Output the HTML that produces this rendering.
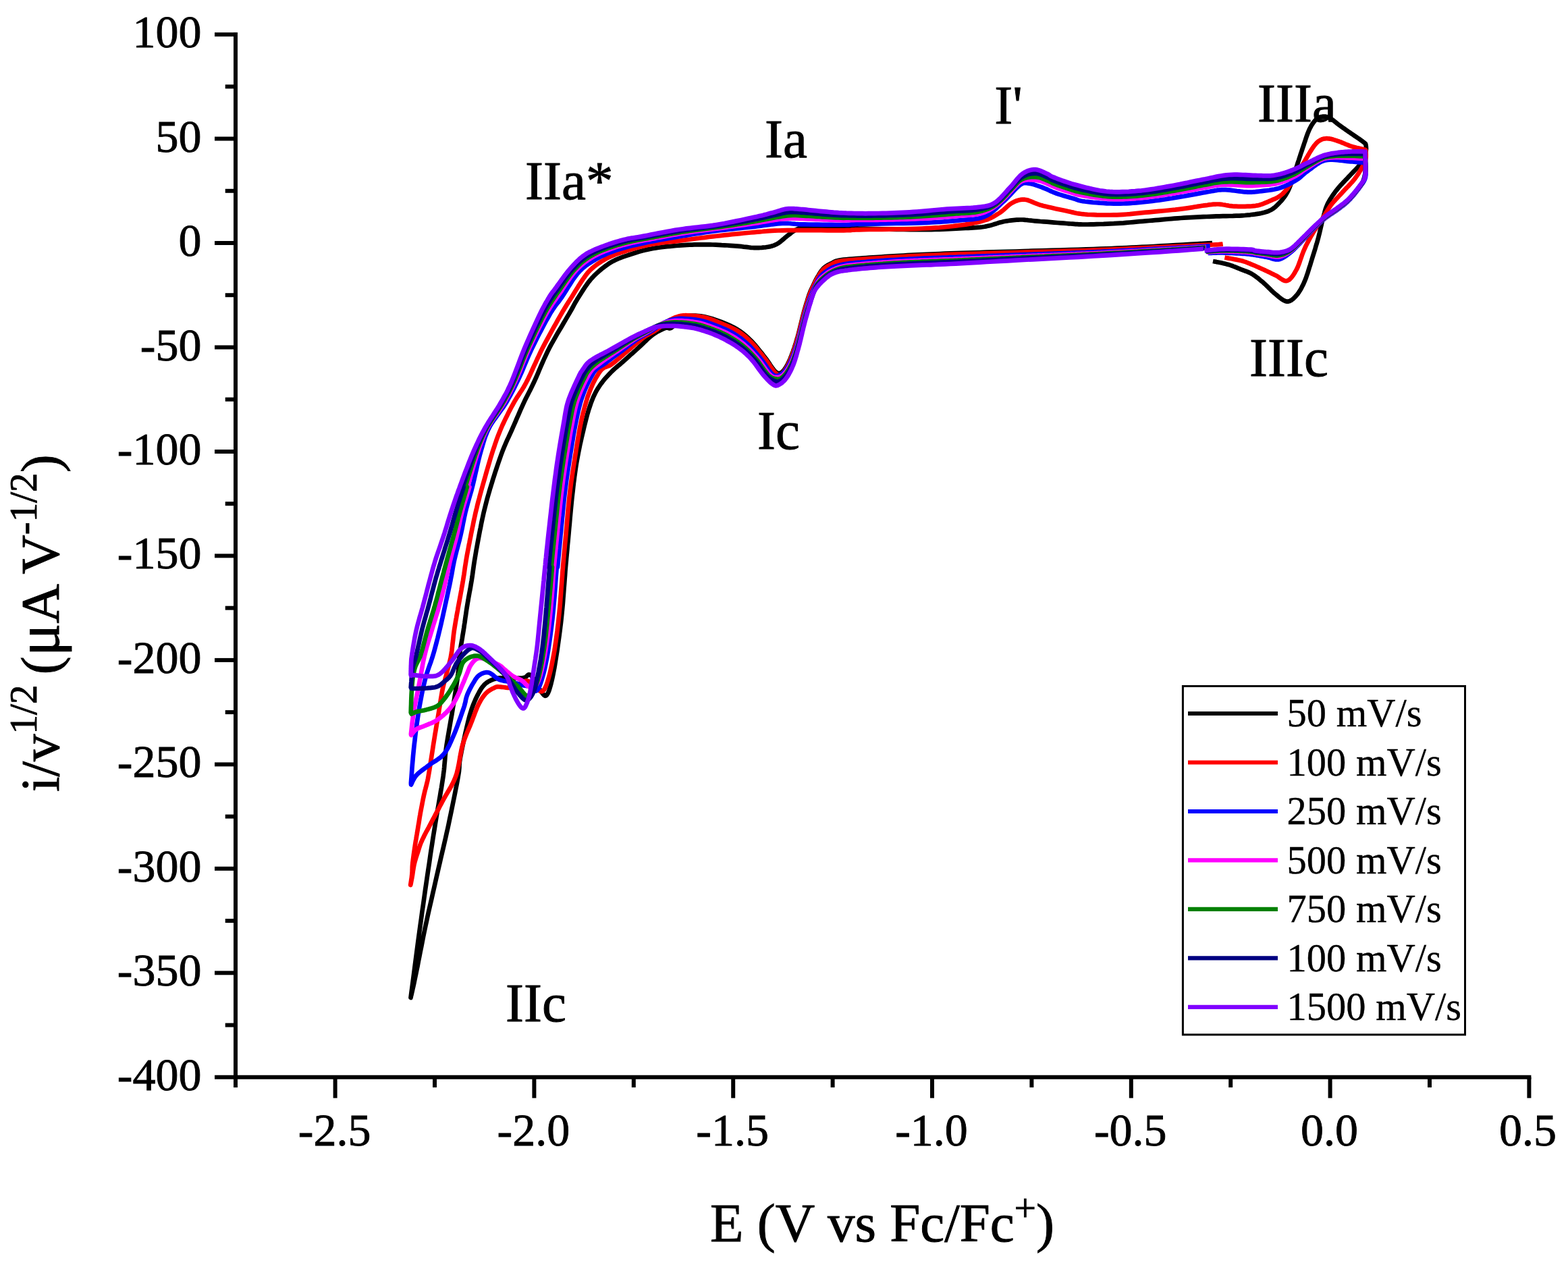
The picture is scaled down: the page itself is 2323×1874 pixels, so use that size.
<!DOCTYPE html>
<html><head><meta charset="utf-8"><title>CV</title>
<style>
html,body{margin:0;padding:0;background:#fff;}
svg{display:block;}
text{font-family:"Liberation Serif","Times New Roman",serif;fill:#000;stroke:#000;stroke-width:0.9px;}
</style></head><body>
<svg xmlns="http://www.w3.org/2000/svg" width="2323" height="1874" viewBox="0 0 2323 1874">
<rect width="2323" height="1874" fill="#fff"/>
<g fill="none" stroke-width="6.7" stroke-linejoin="round" stroke-linecap="butt">
<path d="M1796.0 360.0 1790.2 360.3 1782.7 360.8 1773.8 361.3 1763.7 361.9 1753.0 362.5 1741.9 363.2 1730.6 363.8 1719.7 364.4 1709.4 365.0 1700.0 365.5 1691.6 365.9 1683.7 366.3 1676.3 366.7 1669.1 367.0 1661.9 367.4 1654.6 367.7 1647.0 368.0 1638.8 368.3 1629.8 368.6 1620.0 369.0 1609.1 369.4 1597.1 369.8 1584.3 370.1 1571.0 370.5 1557.3 370.9 1543.6 371.3 1530.1 371.7 1517.0 372.1 1504.5 372.5 1493.0 372.8 1482.2 373.1 1471.7 373.4 1461.6 373.7 1451.8 374.0 1442.4 374.3 1433.3 374.6 1424.5 374.9 1416.0 375.1 1407.9 375.4 1400.0 375.7 1392.5 376.0 1385.5 376.3 1378.9 376.5 1372.6 376.8 1366.6 377.1 1360.8 377.4 1355.2 377.7 1349.7 377.9 1344.3 378.2 1339.0 378.5 1333.8 378.8 1328.8 379.1 1324.1 379.3 1319.5 379.6 1315.1 379.9 1310.7 380.2 1306.4 380.5 1302.0 380.8 1297.6 381.1 1293.0 381.4 1288.2 381.7 1283.2 382.1 1278.1 382.4 1272.9 382.8 1267.8 383.1 1262.8 383.5 1258.1 383.9 1253.8 384.3 1249.9 384.7 1246.5 385.1 1243.7 385.5 1241.5 386.0 1239.7 386.4 1238.3 386.8 1237.1 387.3 1235.2 388.3 1233.2 389.4 1232.0 390.0 1230.7 390.6 1229.4 391.2 1228.1 391.9 1226.9 392.5 1225.7 393.2 1224.5 394.0 1223.3 394.8 1222.2 395.6 1221.1 396.5 1220.0 397.5 1219.0 398.6 1218.0 399.8 1217.0 401.0 1216.0 402.4 1215.1 403.7 1214.2 405.1 1213.4 406.5 1212.6 407.9 1211.8 409.2 1211.0 410.5 1210.3 411.7 1209.6 412.9 1209.0 414.1 1208.4 415.3 1207.8 416.5 1207.3 417.6 1206.7 418.8 1206.2 420.0 1205.6 421.2 1205.0 422.5 1204.4 423.7 1203.8 424.9 1203.3 426.0 1202.7 427.1 1202.2 428.2 1201.6 429.5 1201.0 430.8 1200.4 432.3 1199.7 434.1 1199.0 436.0 1198.2 438.2 1197.5 440.6 1196.6 443.2 1195.8 446.0 1194.9 448.8 1194.0 451.8 1193.1 454.8 1192.2 457.9 1191.3 461.0 1190.5 464.0 1189.7 467.1 1188.9 470.2 1188.1 473.5 1187.3 476.8 1186.5 480.1 1185.7 483.4 1184.9 486.6 1184.1 489.9 1183.3 493.0 1182.5 496.0 1181.7 498.9 1180.8 501.8 1180.0 504.7 1179.2 507.5 1178.3 510.2 1177.5 512.9 1176.6 515.6 1175.7 518.1 1174.9 520.6 1174.0 523.0 1173.1 525.3 1172.2 527.6 1171.3 529.8 1170.5 532.0 1169.5 534.1 1168.6 536.1 1167.7 538.0 1166.8 539.8 1165.9 541.4 1165.0 543.0 1164.1 544.5 1163.1 545.9 1162.2 547.2 1161.3 548.4 1160.3 549.5 1159.4 550.5 1158.4 551.3 1156.6 552.6 1154.8 553.2 1153.3 553.3 1151.8 552.8 1150.2 551.8 1148.4 550.1 1147.3 549.0 1146.2 547.7 1145.0 546.2 1143.8 544.5 1142.5 542.6 1141.1 540.6 1139.7 538.4 1138.3 536.2 1136.7 534.0 1135.1 531.7 1133.4 529.5 1131.6 527.2 1129.7 524.7 1127.6 522.1 1125.5 519.5 1123.3 516.8 1121.1 514.1 1118.9 511.5 1116.7 509.0 1114.5 506.6 1112.4 504.4 1110.3 502.4 1108.3 500.5 1106.3 498.6 1104.4 496.9 1102.4 495.3 1100.4 493.7 1098.3 492.1 1096.1 490.6 1093.9 489.2 1091.5 487.7 1089.0 486.2 1086.4 484.8 1083.6 483.4 1080.8 482.1 1078.0 480.8 1075.1 479.5 1072.2 478.3 1069.3 477.2 1066.4 476.1 1063.6 475.1 1060.8 474.1 1058.0 473.2 1055.2 472.3 1052.4 471.5 1049.6 470.7 1046.8 470.0 1044.0 469.4 1041.2 468.8 1038.5 468.4 1035.8 468.1 1033.1 467.9 1030.3 467.7 1027.6 467.6 1024.8 467.6 1022.1 467.6 1019.5 467.8 1016.9 468.2 1014.4 468.6 1012.1 469.2 1010.0 470.0 1008.0 471.1 1006.2 472.5 1004.5 474.1 1002.9 475.9 1001.4 477.8 999.9 479.7 998.6 481.5 997.3 483.1 996.0 484.5 994.8 485.5 993.7 486.1 991.9 486.5 990.4 486.1 988.8 485.6 986.8 485.6 985.5 486.0 984.0 486.6 982.4 487.3 980.6 488.1 978.7 489.0 976.8 490.0 974.8 491.0 972.8 492.2 970.8 493.4 968.8 494.7 966.9 496.0 965.1 497.4 963.3 498.9 961.5 500.5 959.7 502.1 957.9 503.8 956.1 505.6 954.2 507.4 952.3 509.2 950.4 511.1 948.3 513.0 946.1 515.0 943.9 517.0 941.6 519.1 939.2 521.3 936.8 523.4 934.3 525.6 931.9 527.8 929.5 529.9 927.2 532.0 925.0 534.0 922.8 535.9 920.7 537.8 918.6 539.6 916.5 541.3 914.4 543.1 912.4 544.8 910.4 546.5 908.5 548.3 906.6 550.1 904.7 552.0 902.9 553.9 901.0 555.8 899.3 557.8 897.5 559.7 895.8 561.7 894.1 563.7 892.5 565.8 890.9 567.8 889.4 569.9 888.0 572.0 886.6 574.1 885.3 576.1 884.1 578.2 883.0 580.2 881.9 582.3 880.8 584.5 879.7 586.8 878.6 589.2 877.6 591.7 876.5 594.5 875.4 597.4 874.4 600.4 873.4 603.4 872.3 606.6 871.3 610.0 870.3 613.4 869.3 617.1 868.3 620.9 867.3 624.9 866.2 629.1 865.1 633.6 864.0 638.4 862.8 643.4 861.6 648.6 860.4 653.9 859.2 659.4 858.1 664.8 857.0 670.3 856.0 675.6 855.0 680.9 854.1 686.0 853.3 691.0 852.6 695.9 851.9 700.8 851.2 705.7 850.6 710.7 849.9 715.9 849.3 721.2 848.7 726.8 848.0 732.7 847.3 739.0 846.6 745.9 845.9 753.1 845.2 760.6 844.5 768.1 843.9 775.6 843.2 782.8 842.6 789.7 842.0 796.1 841.5 801.8 841.0 806.7 840.6 811.0 840.3 814.6 840.0 818.0 839.7 821.1 839.4 824.2 839.1 827.5 838.8 831.1 838.4 835.2 838.0 840.0 837.5 845.5 837.1 851.7 836.6 858.2 836.1 865.1 835.5 872.2 835.0 879.3 834.4 886.4 833.9 893.4 833.3 900.0 832.7 906.2 832.1 912.1 831.5 917.8 830.9 923.3 830.2 928.7 829.6 933.9 828.9 939.1 828.2 944.2 827.5 949.2 826.8 954.2 826.1 959.2 825.4 964.2 824.6 969.3 823.8 974.3 823.0 979.3 822.2 984.2 821.4 989.0 820.5 993.5 819.7 997.9 818.9 1001.9 818.1 1005.6 817.3 1009.0 816.5 1012.3 815.7 1015.3 814.9 1018.1 814.1 1020.7 813.4 1023.0 812.6 1025.0 811.8 1026.8 811.0 1028.2 810.2 1029.4 808.7 1030.7 807.4 1030.8 806.0 1029.9 804.4 1028.0 803.4 1026.8 802.3 1025.4 801.0 1023.6 799.5 1021.3 798.0 1018.5 796.3 1015.5 794.5 1012.4 792.8 1009.3 791.0 1006.4 789.4 1003.8 787.8 1001.7 786.4 1000.3 785.2 999.5 783.2 999.4 781.4 1000.6 780.5 1001.5 779.6 1002.4 778.5 1003.2 777.2 1003.8 775.8 1004.2 774.1 1004.4 772.3 1004.5 770.2 1004.6 768.1 1004.7 765.9 1004.7 763.6 1004.8 761.4 1004.8 759.2 1004.8 757.0 1004.8 755.0 1004.8 753.1 1004.8 751.1 1004.7 749.2 1004.6 747.4 1004.5 745.5 1004.4 743.7 1004.3 741.9 1004.3 740.1 1004.3 738.4 1004.5 736.6 1004.8 734.8 1005.2 733.1 1005.7 731.3 1006.2 729.6 1006.9 727.8 1007.6 726.2 1008.4 724.5 1009.2 722.9 1010.1 721.4 1011.1 720.0 1012.2 718.7 1013.3 717.4 1014.5 716.3 1015.8 715.2 1017.1 714.1 1018.5 713.1 1019.9 712.1 1021.5 711.1 1023.2 710.1 1025.0 709.0 1027.0 707.9 1029.1 706.8 1031.3 705.6 1033.6 704.5 1036.0 703.4 1038.5 702.3 1041.1 701.2 1043.8 700.1 1046.7 699.0 1049.6 698.0 1052.7 697.0 1055.9 696.0 1059.3 695.0 1062.9 694.1 1066.6 693.1 1070.4 692.2 1074.2 691.3 1078.1 690.4 1082.0 689.5 1085.8 688.7 1089.5 687.9 1093.2 687.0 1097.1 686.2 1101.0 685.4 1104.9 684.6 1108.8 683.8 1112.6 683.1 1116.3 682.4 1119.9 681.8 1123.2 681.3 1126.4 680.9 1129.1 680.7 1131.2 680.6 1133.0 680.5 1134.5 680.5 1136.1 680.4 1137.8 680.2 1139.9 680.0 1142.5 679.5 1145.8 678.8 1150.0 677.9 1155.2 676.8 1161.1 675.5 1167.7 674.1 1174.9 672.6 1182.4 671.0 1190.1 669.4 1198.0 667.8 1205.7 666.2 1213.3 664.7 1220.6 663.2 1227.6 661.6 1234.5 660.1 1241.4 658.5 1248.3 656.9 1255.2 655.3 1262.1 653.6 1269.1 652.0 1276.3 650.3 1283.5 648.6 1291.0 646.8 1298.7 645.0 1306.7 643.2 1314.8 641.3 1323.1 639.4 1331.4 637.5 1339.7 635.6 1348.0 633.8 1356.1 632.1 1364.1 630.4 1371.8 628.8 1379.4 627.2 1387.1 625.7 1394.8 624.2 1402.5 622.7 1409.9 621.3 1417.2 619.9 1424.1 618.7 1430.7 617.4 1436.8 616.3 1442.4 615.2 1447.5 614.2 1452.3 613.3 1456.8 612.4 1460.9 611.5 1464.6 610.8 1468.0 610.1 1471.0 609.5 1473.7 608.9 1476.0 608.5 1478.0 609.3 1471.7 610.4 1463.5 611.7 1453.8 613.1 1442.9 614.6 1431.2 616.2 1419.0 617.8 1406.6 619.4 1394.4 621.0 1382.7 622.5 1371.8 624.0 1361.3 625.4 1350.6 627.0 1339.9 628.5 1329.2 630.0 1318.5 631.5 1308.2 633.0 1298.1 634.4 1288.5 635.8 1279.4 637.0 1271.0 638.1 1263.3 639.2 1256.3 640.2 1249.9 641.1 1243.9 642.0 1238.2 642.9 1232.8 643.8 1227.4 644.6 1222.0 645.5 1216.4 646.5 1210.5 647.5 1204.4 648.6 1198.1 649.7 1191.8 650.8 1185.4 651.9 1179.1 652.9 1172.9 654.0 1166.8 654.9 1160.9 655.8 1155.3 656.6 1150.0 657.2 1145.1 657.8 1140.6 658.2 1136.5 658.5 1132.5 658.9 1128.7 659.2 1124.9 659.5 1121.0 659.9 1117.0 660.4 1112.7 661.0 1108.0 661.7 1103.0 662.6 1097.6 663.5 1092.0 664.5 1086.2 665.5 1080.4 666.5 1074.6 667.5 1068.8 668.5 1063.2 669.5 1057.8 670.3 1052.7 671.1 1047.8 671.9 1043.1 672.6 1038.4 673.3 1033.9 674.0 1029.5 674.7 1025.2 675.3 1021.1 675.9 1017.2 676.5 1013.5 677.0 1010.0 677.5 1006.7 677.9 1003.7 678.2 1000.9 678.6 998.2 678.9 995.7 679.1 993.4 679.4 991.2 679.6 989.0 679.8 987.0 680.0 985.0 680.1 983.2 680.2 981.8 680.2 979.6 680.1 977.5 680.2 976.2 680.3 974.8 680.4 972.9 680.7 970.6 681.1 967.8 681.6 964.7 682.1 961.2 682.7 957.5 683.4 953.6 684.1 949.5 684.8 945.5 685.4 941.4 686.1 937.5 686.7 933.7 687.3 930.0 687.8 926.3 688.4 922.7 688.9 919.0 689.4 915.3 690.0 911.6 690.5 907.9 691.0 904.3 691.6 900.6 692.2 896.9 692.8 893.2 693.5 889.4 694.1 885.6 694.8 881.8 695.5 878.0 696.2 874.3 696.9 870.6 697.5 867.0 698.1 863.4 698.7 860.0 699.2 856.7 699.7 853.6 700.1 850.7 700.5 847.8 700.9 844.9 701.3 842.0 701.7 839.1 702.1 836.2 702.6 833.1 703.1 829.8 703.7 826.4 704.3 822.8 704.9 819.2 705.5 815.5 706.2 811.8 706.9 808.0 707.6 804.2 708.3 800.4 709.0 796.6 709.7 792.9 710.4 789.2 711.1 785.5 711.9 781.9 712.6 778.2 713.3 774.5 714.1 770.8 714.9 767.1 715.7 763.5 716.5 759.8 717.4 756.1 718.3 752.5 719.2 748.9 720.1 745.4 721.0 741.9 721.9 738.4 722.9 734.8 724.0 731.1 725.1 727.3 726.2 723.4 727.5 719.2 728.9 714.8 730.3 710.0 731.9 705.1 733.5 700.0 735.2 694.9 736.9 689.8 738.6 684.7 740.3 679.8 742.0 675.0 743.6 670.6 745.2 666.4 746.8 662.5 748.4 658.7 750.0 655.0 751.6 651.4 753.3 647.9 754.9 644.4 756.5 640.9 758.1 637.3 759.7 633.7 761.3 630.0 763.0 626.2 764.6 622.4 766.2 618.7 767.9 614.9 769.5 611.1 771.1 607.4 772.7 603.8 774.3 600.3 775.9 596.9 777.4 593.7 778.8 590.8 780.2 588.0 781.6 585.4 782.9 582.7 784.3 580.0 785.8 577.1 787.3 574.0 789.0 570.6 790.8 566.8 792.7 562.6 794.8 558.0 796.9 553.1 799.0 548.0 801.3 542.7 803.6 537.4 806.0 532.0 808.5 526.6 811.0 521.3 813.6 516.1 816.3 510.9 819.3 505.6 822.4 500.1 825.5 494.6 828.7 489.2 831.9 483.9 834.9 478.8 837.8 473.9 840.4 469.4 842.8 465.4 844.8 461.8 846.6 458.7 848.1 456.0 849.4 453.6 850.6 451.3 851.8 449.1 853.0 447.0 854.3 444.9 855.7 442.5 857.3 440.0 859.0 437.3 860.8 434.5 862.6 431.6 864.5 428.7 866.4 425.7 868.4 422.8 870.4 420.0 872.6 417.1 874.8 414.4 877.1 411.8 879.5 409.2 882.1 406.7 884.7 404.2 887.4 401.8 890.2 399.4 893.1 397.0 896.0 394.8 898.9 392.7 901.8 390.7 904.7 388.9 907.6 387.2 910.6 385.7 913.5 384.3 916.6 383.0 919.6 381.8 922.7 380.7 925.7 379.6 928.8 378.6 932.0 377.5 935.1 376.5 938.2 375.5 941.3 374.5 944.4 373.5 947.5 372.6 950.6 371.8 953.8 370.9 957.1 370.1 960.4 369.4 963.9 368.7 967.6 368.0 971.5 367.4 975.5 366.8 979.7 366.2 984.1 365.7 988.5 365.2 992.9 364.8 997.3 364.4 1001.7 364.0 1005.9 363.7 1010.0 363.4 1013.9 363.1 1017.8 362.9 1021.5 362.7 1025.2 362.6 1028.8 362.4 1032.5 362.3 1036.2 362.3 1039.9 362.3 1043.7 362.3 1047.6 362.3 1051.7 362.4 1055.9 362.5 1060.3 362.6 1064.7 362.8 1069.1 363.1 1073.5 363.3 1077.7 363.5 1081.9 363.8 1085.8 364.1 1089.4 364.3 1092.8 364.6 1096.0 364.9 1099.0 365.2 1101.9 365.6 1104.7 365.9 1107.3 366.2 1109.9 366.5 1112.4 366.8 1114.9 367.0 1117.3 367.1 1119.7 367.1 1122.0 367.1 1124.3 367.1 1126.5 367.0 1128.6 366.9 1130.7 366.7 1132.7 366.5 1134.6 366.3 1136.4 366.0 1138.2 365.7 1139.9 365.4 1141.4 365.1 1142.9 364.7 1144.3 364.3 1145.6 363.9 1146.9 363.4 1148.1 362.9 1149.4 362.3 1150.7 361.7 1152.1 360.9 1153.5 360.0 1154.9 359.0 1156.3 358.0 1157.7 356.8 1159.1 355.6 1160.5 354.4 1161.9 353.2 1163.3 351.9 1164.7 350.8 1166.1 349.7 1167.5 348.6 1168.9 347.6 1170.3 346.5 1171.7 345.4 1173.0 344.3 1174.4 343.3 1175.8 342.4 1177.2 341.5 1178.6 340.7 1180.0 340.0 1181.2 339.4 1182.9 338.5 1184.4 337.9 1186.7 337.5 1188.5 337.3 1190.9 337.1 1194.0 337.0 1198.0 336.9 1203.0 336.8 1208.8 336.7 1215.0 336.7 1221.4 336.7 1228.0 336.7 1234.3 336.8 1240.2 336.9 1245.6 336.9 1250.0 337.0 1253.3 337.1 1255.6 337.2 1257.1 337.3 1259.1 337.6 1261.9 338.0 1264.4 338.2 1267.9 338.3 1272.9 338.5 1279.5 338.7 1287.6 338.9 1296.8 339.1 1306.8 339.3 1317.3 339.6 1328.0 339.8 1338.5 339.9 1348.6 340.1 1357.8 340.2 1365.9 340.2 1373.1 340.2 1379.7 340.1 1385.9 339.9 1391.8 339.8 1397.2 339.6 1402.4 339.4 1407.4 339.1 1412.2 338.9 1416.9 338.6 1421.6 338.4 1426.1 338.2 1430.4 338.0 1434.4 337.8 1438.3 337.6 1441.9 337.4 1445.5 337.2 1448.9 336.9 1452.3 336.6 1455.5 336.2 1458.8 335.7 1462.0 335.1 1465.0 334.4 1468.0 333.7 1470.8 332.9 1473.6 332.0 1476.3 331.2 1478.9 330.3 1481.5 329.6 1484.1 328.9 1486.7 328.3 1489.3 327.8 1491.8 327.4 1494.3 327.0 1496.7 326.6 1499.2 326.3 1501.5 326.1 1503.9 325.9 1506.2 325.7 1508.6 325.6 1510.9 325.5 1513.1 325.5 1515.1 325.5 1517.0 325.6 1518.8 325.8 1520.6 326.0 1522.6 326.2 1524.8 326.5 1527.2 326.7 1530.0 327.0 1533.2 327.3 1537.0 327.6 1541.3 328.0 1546.1 328.3 1551.1 328.7 1556.3 329.2 1561.5 329.6 1566.6 330.0 1571.5 330.4 1576.0 330.7 1580.0 331.0 1583.4 331.3 1586.4 331.5 1589.0 331.7 1591.4 331.9 1593.7 332.1 1595.9 332.2 1598.3 332.3 1601.0 332.4 1603.9 332.5 1607.4 332.5 1611.3 332.5 1615.6 332.4 1620.2 332.3 1624.9 332.2 1629.9 332.0 1634.9 331.9 1640.0 331.6 1645.0 331.4 1650.0 331.2 1654.8 330.9 1659.5 330.6 1664.3 330.3 1669.0 329.9 1673.8 329.5 1678.5 329.1 1683.2 328.7 1688.0 328.2 1692.7 327.8 1697.5 327.4 1702.2 327.0 1706.9 326.6 1711.7 326.2 1716.4 325.8 1721.2 325.3 1725.9 324.9 1730.6 324.5 1735.4 324.1 1740.1 323.7 1744.9 323.3 1749.6 323.0 1754.3 322.7 1759.1 322.4 1763.8 322.1 1768.6 321.9 1773.3 321.6 1778.0 321.4 1782.8 321.2 1787.5 321.0 1792.3 320.8 1797.0 320.6 1801.8 320.4 1806.7 320.3 1811.7 320.2 1816.7 320.1 1821.6 320.0 1826.5 319.9 1831.2 319.7 1835.8 319.6 1840.2 319.3 1844.4 319.0 1848.3 318.6 1852.2 318.3 1855.8 317.8 1859.4 317.4 1862.7 316.9 1866.0 316.4 1869.0 315.8 1872.0 315.1 1874.7 314.3 1877.3 313.5 1879.7 312.6 1881.8 311.6 1883.7 310.6 1885.5 309.5 1887.1 308.3 1888.7 307.1 1890.2 305.7 1891.6 304.4 1893.1 302.9 1894.6 301.4 1896.1 299.8 1897.6 298.2 1899.1 296.5 1900.5 294.8 1901.9 293.0 1903.3 291.1 1904.6 289.1 1905.9 287.0 1907.2 284.8 1908.4 282.4 1909.6 279.9 1910.7 277.2 1911.8 274.4 1912.8 271.5 1913.8 268.5 1914.8 265.4 1915.8 262.3 1916.8 259.2 1917.8 256.1 1918.8 253.0 1919.8 250.0 1920.9 246.9 1921.9 243.7 1922.9 240.6 1924.0 237.5 1925.0 234.3 1926.0 231.2 1927.0 228.0 1928.1 224.9 1929.1 221.9 1930.1 218.8 1931.2 215.7 1932.2 212.5 1933.3 209.4 1934.3 206.2 1935.3 203.2 1936.4 200.3 1937.4 197.5 1938.5 194.9 1939.5 192.5 1940.5 190.3 1941.6 188.3 1942.6 186.4 1943.7 184.7 1944.7 183.1 1945.7 181.7 1946.8 180.3 1947.8 179.1 1948.9 177.9 1949.9 176.9 1950.9 176.0 1952.0 175.2 1953.0 174.6 1955.1 173.6 1957.2 173.0 1959.3 172.7 1961.3 172.5 1963.3 172.6 1965.2 173.0 1967.2 173.6 1969.4 174.6 1970.6 175.2 1971.8 175.9 1973.1 176.8 1974.4 177.7 1975.7 178.7 1977.1 179.8 1978.5 180.9 1980.0 182.1 1981.5 183.3 1983.0 184.5 1984.5 185.6 1986.1 186.8 1987.8 188.0 1989.5 189.2 1991.3 190.4 1993.1 191.7 1994.9 193.0 1996.7 194.2 1998.4 195.4 2000.1 196.6 2001.7 197.7 2003.3 198.8 2004.8 199.8 2006.3 200.9 2007.8 201.9 2009.2 202.8 2010.6 203.8 2012.0 204.7 2013.3 205.6 2014.5 206.4 2015.6 207.2 2016.7 208.0 2017.7 208.7 2018.6 209.4 2020.4 210.8 2021.8 212.0 2023.0 212.9 2023.5 214.7 2023.8 216.8 2023.9 218.0 2024.0 219.3 2024.0 220.7 2023.9 222.1 2023.7 223.5 2023.4 225.0 2023.0 226.5 2022.5 228.1 2021.9 229.8 2021.3 231.6 2020.6 233.3 2019.8 235.2 2018.9 237.0 2017.9 238.9 2016.8 240.8 2015.6 242.6 2014.3 244.4 2012.7 246.3 2011.1 248.2 2009.4 250.1 2007.5 252.0 2005.7 253.9 2003.8 255.9 2001.9 257.8 2000.1 259.7 1998.3 261.6 1996.6 263.5 1994.8 265.4 1993.0 267.2 1991.2 269.1 1989.4 271.0 1987.7 272.9 1985.9 274.8 1984.2 276.7 1982.6 278.6 1981.0 280.6 1979.4 282.6 1977.9 284.6 1976.4 286.7 1974.9 288.8 1973.4 290.9 1972.1 293.0 1970.7 295.1 1969.5 297.2 1968.3 299.3 1967.2 301.4 1966.2 303.4 1965.4 305.4 1964.6 307.3 1963.9 309.3 1963.3 311.2 1962.7 313.2 1962.2 315.3 1961.6 317.4 1961.0 319.7 1960.3 322.1 1959.6 324.7 1959.0 327.3 1958.3 330.1 1957.7 333.0 1957.0 335.9 1956.3 338.9 1955.6 342.0 1954.9 345.1 1954.1 348.3 1953.3 351.5 1952.4 354.8 1951.5 358.1 1950.5 361.6 1949.4 365.1 1948.4 368.7 1947.3 372.3 1946.2 375.8 1945.1 379.3 1944.0 382.8 1943.0 386.1 1942.0 389.4 1941.0 392.7 1939.9 396.0 1938.9 399.3 1937.9 402.5 1936.9 405.7 1935.8 408.7 1934.8 411.7 1933.7 414.5 1932.6 417.2 1931.5 419.7 1930.3 422.2 1929.1 424.6 1928.0 426.8 1926.8 428.9 1925.5 431.0 1924.3 432.9 1923.1 434.7 1921.8 436.4 1920.5 437.9 1919.2 439.3 1917.9 440.7 1916.6 442.0 1915.2 443.2 1913.9 444.2 1912.5 445.1 1911.1 445.8 1909.7 446.3 1908.2 446.6 1906.7 446.6 1905.2 446.4 1903.6 445.8 1902.0 445.0 1900.3 444.1 1898.6 442.9 1896.9 441.6 1895.2 440.3 1893.5 438.9 1891.7 437.4 1890.0 436.0 1888.2 434.5 1886.4 432.9 1884.6 431.2 1882.7 429.4 1880.9 427.5 1879.0 425.7 1877.1 423.8 1875.3 422.1 1873.5 420.4 1871.7 418.8 1870.0 417.3 1868.2 415.9 1866.5 414.4 1864.9 413.1 1863.2 411.7 1861.5 410.5 1859.9 409.3 1858.3 408.1 1856.6 407.0 1855.0 406.0 1853.4 405.1 1851.8 404.3 1850.3 403.6 1848.8 402.9 1847.3 402.3 1845.7 401.7 1844.2 401.2 1842.6 400.6 1840.9 400.0 1839.2 399.3 1837.4 398.6 1835.6 397.8 1833.8 397.1 1831.9 396.3 1830.1 395.5 1828.1 394.8 1826.1 394.0 1824.1 393.3 1822.1 392.6 1820.0 392.0 1817.8 391.4 1815.3 390.8 1812.7 390.2 1810.0 389.6 1807.3 389.0 1804.7 388.5 1802.3 388.1 1800.2 387.6 1798.4 387.3 1797.0 387.0" stroke="#000000"/>
<path d="M1811.7 361.5 1810.4 361.7 1807.9 361.9 1805.4 362.1 1801.9 362.3 1797.0 362.5 1790.6 362.8 1782.6 363.2 1773.4 363.6 1763.3 364.1 1752.6 364.6 1741.5 365.1 1730.4 365.6 1719.6 366.1 1709.4 366.6 1700.0 367.0 1691.5 367.4 1683.7 367.8 1676.2 368.1 1669.0 368.5 1661.9 368.8 1654.6 369.2 1646.9 369.5 1638.7 369.9 1629.8 370.2 1620.0 370.6 1609.1 371.0 1597.1 371.3 1584.3 371.7 1571.0 372.1 1557.3 372.5 1543.6 372.9 1530.1 373.2 1517.0 373.6 1504.5 374.0 1493.0 374.3 1482.2 374.6 1471.7 374.9 1461.6 375.2 1451.8 375.5 1442.4 375.8 1433.3 376.1 1424.5 376.4 1416.0 376.6 1407.9 376.9 1400.0 377.2 1392.5 377.5 1385.5 377.8 1378.9 378.0 1372.6 378.3 1366.6 378.6 1360.8 378.9 1355.2 379.2 1349.7 379.4 1344.3 379.7 1339.0 380.0 1333.8 380.3 1328.8 380.6 1324.1 380.8 1319.5 381.1 1315.1 381.4 1310.7 381.7 1306.4 382.0 1302.0 382.3 1297.6 382.6 1293.0 382.9 1288.2 383.2 1283.2 383.6 1278.1 383.9 1272.9 384.3 1267.8 384.6 1262.8 385.0 1258.1 385.4 1253.8 385.8 1249.9 386.2 1246.5 386.6 1243.7 387.0 1241.5 387.5 1239.7 387.9 1238.3 388.3 1237.1 388.8 1235.2 389.8 1233.2 390.9 1232.0 391.5 1230.7 392.1 1229.4 392.7 1228.1 393.4 1226.9 394.0 1225.7 394.7 1224.5 395.5 1223.3 396.3 1222.2 397.1 1221.1 398.0 1220.0 399.0 1219.0 400.1 1218.0 401.3 1217.0 402.5 1216.0 403.9 1215.1 405.2 1214.2 406.6 1213.4 408.0 1212.6 409.4 1211.8 410.7 1211.0 412.0 1210.3 413.2 1209.6 414.4 1209.0 415.6 1208.4 416.8 1207.8 417.9 1207.3 419.1 1206.7 420.3 1206.2 421.5 1205.6 422.7 1205.0 424.0 1204.4 425.3 1203.8 426.4 1203.3 427.6 1202.7 428.8 1202.2 430.0 1201.6 431.3 1201.0 432.7 1200.4 434.3 1199.7 436.0 1199.0 438.0 1198.2 440.2 1197.5 442.6 1196.6 445.2 1195.8 448.0 1194.9 450.9 1194.0 453.8 1193.1 456.9 1192.2 459.9 1191.3 463.0 1190.5 466.0 1189.7 469.1 1188.9 472.2 1188.1 475.5 1187.3 478.8 1186.5 482.1 1185.7 485.4 1184.9 488.6 1184.1 491.9 1183.3 495.0 1182.5 498.0 1181.7 500.9 1180.8 503.8 1180.0 506.7 1179.2 509.5 1178.3 512.2 1177.5 514.9 1176.6 517.6 1175.7 520.1 1174.9 522.6 1174.0 525.0 1173.1 527.3 1172.2 529.6 1171.3 531.8 1170.5 534.0 1169.5 536.1 1168.6 538.0 1167.7 539.9 1166.8 541.7 1165.9 543.4 1165.0 545.0 1164.1 546.5 1163.1 547.9 1162.2 549.2 1161.3 550.5 1160.3 551.6 1159.4 552.6 1158.4 553.5 1156.6 554.8 1154.8 555.4 1153.3 555.5 1151.8 555.0 1150.2 553.8 1148.4 552.1 1147.3 551.0 1146.2 549.7 1145.0 548.2 1143.8 546.5 1142.5 544.6 1141.1 542.6 1139.7 540.4 1138.3 538.2 1136.7 536.0 1135.1 533.7 1133.4 531.5 1131.6 529.2 1129.7 526.7 1127.6 524.1 1125.5 521.5 1123.3 518.8 1121.1 516.1 1118.9 513.5 1116.7 511.0 1114.5 508.6 1112.4 506.4 1110.3 504.4 1108.3 502.5 1106.3 500.6 1104.4 498.9 1102.4 497.3 1100.4 495.7 1098.3 494.1 1096.1 492.6 1093.9 491.2 1091.5 489.7 1088.9 488.2 1086.2 486.8 1083.3 485.4 1080.4 484.1 1077.3 482.8 1074.4 481.5 1071.4 480.3 1068.6 479.2 1066.0 478.1 1063.6 477.1 1061.4 476.2 1059.4 475.4 1057.6 474.6 1055.8 473.9 1054.2 473.3 1052.6 472.7 1051.0 472.2 1049.3 471.7 1047.7 471.2 1045.9 470.7 1044.1 470.3 1042.2 469.9 1040.4 469.5 1038.5 469.2 1036.7 468.9 1034.8 468.6 1032.9 468.4 1031.0 468.2 1029.2 468.1 1027.3 467.9 1025.4 467.8 1023.6 467.6 1021.7 467.5 1019.9 467.3 1018.0 467.3 1016.1 467.2 1014.3 467.3 1012.4 467.4 1010.6 467.6 1008.7 467.9 1006.8 468.3 1005.0 468.8 1003.1 469.4 1001.3 470.0 999.4 470.7 997.5 471.5 995.7 472.4 993.8 473.3 992.0 474.3 990.1 475.3 988.2 476.4 986.4 477.7 984.5 479.1 982.7 480.6 980.8 482.1 978.9 483.6 977.1 485.1 975.2 486.6 973.4 488.0 971.5 489.3 969.7 490.5 967.9 491.6 966.1 492.6 964.3 493.5 962.5 494.5 960.7 495.5 958.8 496.5 956.9 497.7 954.9 499.0 952.9 500.4 950.8 502.0 948.6 503.8 946.3 505.6 944.0 507.6 941.6 509.6 939.2 511.7 936.8 513.8 934.4 515.9 932.0 517.9 929.7 519.9 927.3 521.9 924.9 524.0 922.4 526.2 920.0 528.3 917.5 530.5 915.1 532.5 912.7 534.5 910.5 536.3 908.4 538.0 906.5 539.4 904.7 540.6 903.1 541.5 901.6 542.2 900.2 542.7 898.9 543.2 897.6 543.6 896.4 544.0 895.3 544.5 894.1 545.2 893.0 546.0 891.9 547.0 890.9 548.0 889.9 549.1 889.0 550.2 888.2 551.4 887.3 552.7 886.5 553.9 885.7 555.3 884.8 556.6 884.0 558.0 883.2 559.4 882.3 560.9 881.5 562.4 880.7 563.9 879.9 565.5 879.1 567.1 878.3 568.7 877.5 570.4 876.8 572.2 876.0 574.0 875.2 575.8 874.5 577.6 873.8 579.4 873.1 581.2 872.3 583.1 871.6 585.1 870.9 587.2 870.1 589.4 869.4 591.9 868.6 594.5 867.8 597.3 867.0 600.2 866.1 603.3 865.3 606.5 864.4 609.8 863.5 613.3 862.6 617.0 861.7 620.9 860.9 624.9 860.0 629.1 859.1 633.6 858.2 638.4 857.4 643.4 856.5 648.6 855.6 653.9 854.7 659.4 853.8 664.8 853.0 670.3 852.1 675.6 851.3 680.9 850.5 686.0 849.7 691.0 849.0 695.9 848.2 700.8 847.5 705.7 846.7 710.7 846.0 715.9 845.3 721.2 844.6 726.8 843.9 732.7 843.2 739.0 842.5 745.9 841.8 753.1 841.1 760.6 840.5 768.1 839.8 775.6 839.2 782.8 838.6 789.7 838.0 796.1 837.5 801.8 837.0 806.7 836.6 811.0 836.3 814.6 836.0 818.0 835.7 821.1 835.4 824.2 835.1 827.5 834.8 831.1 834.4 835.2 834.0 840.0 833.5 845.5 833.1 851.7 832.6 858.2 832.1 865.1 831.5 872.2 831.0 879.3 830.4 886.4 829.9 893.4 829.3 900.0 828.7 906.2 828.1 912.1 827.5 917.9 826.9 923.5 826.2 929.0 825.6 934.4 824.9 939.6 824.2 944.7 823.5 949.7 822.8 954.5 822.1 959.2 821.4 963.8 820.6 968.3 819.8 972.7 819.0 976.9 818.2 981.0 817.4 985.0 816.6 988.7 815.8 992.4 815.0 995.8 814.2 999.0 813.4 1002.0 812.6 1004.9 811.8 1007.7 811.0 1010.3 810.2 1012.7 809.4 1014.9 808.6 1016.9 807.8 1018.6 807.0 1020.2 806.2 1021.5 805.4 1022.6 804.0 1023.9 802.7 1024.4 801.2 1024.2 799.4 1023.4 797.1 1022.0 795.7 1020.8 794.3 1019.4 792.8 1017.8 791.2 1016.1 789.6 1014.5 788.0 1012.9 786.5 1011.5 785.0 1010.3 783.7 1009.5 782.5 1009.0 780.3 1008.6 778.3 1008.9 776.3 1009.5 774.2 1010.4 773.1 1010.9 771.9 1011.5 770.7 1012.2 769.5 1013.1 768.3 1014.0 767.1 1015.0 765.8 1016.0 764.4 1016.9 763.0 1017.7 761.5 1018.4 759.9 1018.8 758.1 1019.0 756.1 1019.1 754.0 1019.0 751.8 1018.8 749.6 1018.6 747.4 1018.3 745.2 1018.0 743.3 1017.8 741.5 1017.6 740.0 1017.5 737.9 1017.4 736.6 1017.4 735.1 1017.7 733.9 1018.2 731.9 1019.1 730.8 1019.7 729.5 1020.3 728.1 1021.0 726.8 1021.8 725.3 1022.7 723.9 1023.7 722.6 1024.7 721.2 1025.8 720.0 1027.0 718.8 1028.3 717.7 1029.6 716.6 1031.0 715.5 1032.5 714.4 1034.0 713.3 1035.7 712.2 1037.5 711.2 1039.4 710.1 1041.4 709.0 1043.5 707.9 1045.8 706.8 1048.2 705.8 1050.8 704.7 1053.5 703.6 1056.3 702.5 1059.2 701.4 1062.1 700.3 1065.1 699.2 1068.1 698.0 1071.1 696.8 1074.1 695.5 1077.1 694.2 1080.1 692.9 1083.1 691.6 1086.2 690.3 1089.4 689.0 1092.8 687.7 1096.2 686.5 1099.9 685.3 1103.7 684.2 1107.8 683.3 1112.2 682.4 1116.9 681.5 1121.7 680.7 1126.6 679.8 1131.5 678.8 1136.4 677.8 1141.1 676.6 1145.7 675.2 1150.0 673.6 1154.1 671.9 1158.0 670.0 1161.7 668.1 1165.4 666.0 1169.0 663.9 1172.5 661.8 1176.1 659.7 1179.6 657.7 1183.2 655.7 1186.8 653.7 1190.6 651.6 1194.5 649.5 1198.6 647.3 1202.6 645.2 1206.6 643.2 1210.5 641.2 1214.2 639.4 1217.7 637.7 1220.8 636.3 1223.5 635.1 1225.8 634.1 1227.6 633.3 1229.1 632.6 1230.4 632.0 1231.4 631.0 1233.3 630.0 1235.2 629.4 1236.4 628.7 1237.7 628.1 1239.0 627.5 1240.3 626.8 1241.6 626.2 1242.9 625.6 1244.2 625.0 1245.5 624.4 1246.8 623.8 1248.1 623.3 1249.4 622.8 1250.7 622.3 1251.9 621.9 1253.2 621.5 1254.4 621.1 1255.6 620.7 1256.9 620.3 1258.2 619.9 1259.5 619.5 1260.9 619.0 1262.4 618.5 1263.9 618.0 1265.5 617.4 1267.2 616.9 1268.8 616.3 1270.5 615.8 1272.3 615.3 1274.1 614.7 1275.9 614.3 1277.7 613.8 1279.6 613.4 1281.6 613.0 1283.6 612.6 1285.8 612.3 1288.0 611.9 1290.2 611.6 1292.4 611.3 1294.5 611.0 1296.5 610.7 1298.3 610.4 1300.0 610.1 1301.5 609.8 1303.0 609.6 1304.3 609.3 1305.6 608.9 1307.8 608.5 1309.7 608.2 1311.0 608.5 1308.8 608.7 1307.4 609.0 1305.7 609.2 1304.0 609.5 1302.1 609.8 1300.3 610.0 1298.4 610.2 1296.6 610.4 1295.0 610.5 1293.5 610.6 1292.0 610.7 1290.7 610.7 1289.3 610.7 1287.9 610.8 1286.5 610.8 1285.0 610.9 1283.3 611.0 1281.6 611.2 1279.6 611.4 1277.4 611.7 1275.1 612.0 1272.6 612.4 1270.0 612.7 1267.3 613.1 1264.6 613.5 1261.8 613.9 1259.0 614.3 1256.3 614.7 1253.7 615.1 1251.1 615.5 1248.5 615.9 1245.9 616.4 1243.3 616.8 1240.8 617.2 1238.2 617.7 1235.6 618.1 1233.0 618.6 1230.4 619.0 1227.8 619.4 1225.2 619.8 1222.6 620.3 1220.0 620.7 1217.4 621.1 1214.9 621.5 1212.3 621.9 1209.7 622.4 1207.1 622.8 1204.5 623.3 1201.9 623.8 1199.3 624.3 1196.7 624.8 1194.1 625.3 1191.5 625.8 1188.9 626.3 1186.3 626.8 1183.7 627.4 1181.1 627.9 1178.5 628.5 1175.9 629.1 1173.4 629.6 1171.2 630.2 1169.1 630.7 1167.1 631.3 1164.9 631.9 1162.7 632.5 1160.1 633.2 1157.2 633.9 1153.9 634.6 1150.0 635.4 1145.4 636.3 1140.1 637.2 1134.3 638.2 1128.1 639.2 1121.6 640.2 1115.2 641.2 1108.8 642.1 1102.8 643.0 1097.2 643.8 1092.2 644.5 1087.8 645.2 1083.8 645.8 1080.1 646.4 1076.7 646.9 1073.4 647.5 1070.3 648.0 1067.2 648.5 1064.1 649.0 1061.0 649.6 1057.6 650.2 1054.1 650.7 1050.5 651.3 1046.9 651.9 1043.2 652.5 1039.6 653.0 1036.0 653.6 1032.5 654.2 1029.2 654.7 1026.0 655.3 1023.0 655.9 1020.3 656.4 1017.8 657.0 1015.4 657.5 1013.3 658.1 1011.2 658.7 1009.1 659.3 1007.0 659.8 1004.8 660.5 1002.5 661.1 1000.0 661.8 997.4 662.5 994.6 663.2 991.9 664.0 989.1 664.8 986.2 665.5 983.2 666.3 980.2 667.0 977.1 667.7 973.9 668.3 970.6 668.9 967.2 669.4 963.7 669.8 960.1 670.2 956.4 670.6 952.6 671.1 948.8 671.5 945.0 671.9 941.2 672.4 937.4 672.9 933.7 673.5 930.0 674.1 926.3 674.7 922.7 675.3 919.0 676.0 915.3 676.6 911.6 677.3 907.9 678.0 904.3 678.6 900.6 679.3 896.9 680.0 893.2 680.7 889.4 681.4 885.6 682.1 881.8 682.8 878.0 683.5 874.3 684.1 870.6 684.8 867.0 685.4 863.4 686.0 860.0 686.5 856.7 687.0 853.6 687.5 850.7 687.9 847.8 688.3 844.9 688.7 842.0 689.1 839.1 689.6 836.2 690.1 833.1 690.6 829.8 691.2 826.4 691.8 822.8 692.5 819.2 693.2 815.5 693.9 811.8 694.6 808.0 695.4 804.2 696.1 800.4 696.9 796.6 697.6 792.9 698.3 789.2 699.1 785.5 699.8 781.9 700.6 778.2 701.3 774.5 702.1 770.8 702.9 767.1 703.7 763.5 704.5 759.8 705.4 756.1 706.3 752.5 707.1 748.9 708.0 745.4 708.9 741.9 709.9 738.4 710.8 734.8 711.8 731.1 712.8 727.3 713.9 723.4 715.1 719.2 716.3 714.8 717.7 710.0 719.1 705.1 720.5 700.0 722.0 694.9 723.5 689.8 725.0 684.7 726.4 679.8 727.9 675.0 729.3 670.6 730.6 666.4 732.0 662.5 733.2 658.7 734.5 655.0 735.7 651.4 737.0 647.9 738.3 644.4 739.7 640.9 741.2 637.3 742.7 633.7 744.3 630.0 746.1 626.2 747.9 622.4 749.7 618.7 751.6 614.9 753.5 611.1 755.4 607.4 757.3 603.8 759.2 600.3 761.1 596.9 762.9 593.7 764.7 590.8 766.4 588.0 768.2 585.4 769.9 582.7 771.7 580.0 773.6 577.1 775.5 574.0 777.4 570.6 779.5 566.8 781.7 562.6 783.9 558.0 786.2 553.1 788.5 548.0 790.9 542.7 793.4 537.4 795.8 532.0 798.4 526.6 800.9 521.3 803.5 516.1 806.2 510.9 809.0 505.6 812.0 500.1 815.0 494.6 818.0 489.2 820.9 483.9 823.8 478.8 826.5 473.9 829.1 469.4 831.4 465.4 833.4 461.8 835.3 458.7 836.9 456.0 838.4 453.6 839.8 451.3 841.2 449.1 842.5 447.0 843.9 444.9 845.4 442.5 847.0 440.0 848.7 437.2 850.5 434.3 852.3 431.3 854.2 428.3 856.1 425.3 857.9 422.3 859.8 419.4 861.6 416.7 863.3 414.1 864.9 411.8 866.4 409.7 867.7 407.9 869.0 406.2 870.2 404.7 871.4 403.3 872.6 402.0 873.9 400.6 875.3 399.3 876.8 397.9 878.6 396.4 880.5 394.8 882.6 393.2 884.7 391.6 887.0 390.0 889.4 388.4 891.8 386.8 894.4 385.3 897.0 383.7 899.7 382.3 902.5 380.9 905.4 379.6 908.5 378.3 911.6 377.0 914.9 375.8 918.3 374.7 921.6 373.5 925.1 372.5 928.4 371.4 931.8 370.4 935.1 369.4 938.3 368.5 941.5 367.5 944.7 366.7 947.8 365.8 951.0 365.0 954.2 364.3 957.4 363.5 960.7 362.8 964.1 362.1 967.6 361.5 971.1 360.9 974.6 360.4 978.1 359.9 981.6 359.5 985.2 359.0 989.0 358.6 992.9 358.2 996.9 357.8 1001.2 357.3 1005.8 356.7 1010.7 356.1 1015.8 355.4 1021.2 354.7 1026.8 354.0 1032.5 353.2 1038.4 352.5 1044.2 351.8 1050.1 351.0 1055.8 350.4 1061.5 349.7 1067.1 349.1 1072.9 348.4 1078.7 347.8 1084.5 347.2 1090.3 346.6 1096.0 346.1 1101.6 345.5 1107.0 345.0 1112.3 344.5 1117.3 344.1 1121.8 343.7 1125.8 343.3 1129.3 343.0 1132.7 342.6 1136.0 342.4 1139.5 342.1 1143.4 341.8 1147.8 341.6 1153.0 341.5 1159.1 341.3 1166.5 341.2 1175.2 341.1 1184.9 341.1 1195.2 341.1 1205.7 341.2 1216.2 341.2 1226.2 341.3 1235.4 341.3 1243.4 341.3 1250.0 341.3 1254.7 341.2 1257.8 341.2 1259.7 341.1 1261.3 340.9 1263.0 340.7 1264.9 340.6 1268.1 340.4 1272.9 340.3 1279.5 340.2 1287.6 340.0 1296.8 339.9 1306.8 339.8 1317.3 339.6 1328.0 339.5 1338.5 339.3 1348.6 339.1 1357.8 338.8 1365.9 338.5 1373.1 338.2 1379.7 337.8 1385.9 337.4 1391.8 337.0 1397.2 336.5 1402.4 336.0 1407.4 335.5 1412.2 335.0 1416.9 334.4 1421.6 333.8 1426.1 333.2 1430.5 332.6 1434.6 331.9 1438.5 331.2 1442.3 330.5 1445.9 329.8 1449.3 329.0 1452.6 328.2 1455.8 327.3 1458.8 326.4 1461.7 325.5 1464.3 324.5 1466.7 323.4 1469.0 322.4 1471.1 321.3 1473.2 320.1 1475.2 318.9 1477.1 317.7 1479.1 316.5 1481.1 315.2 1483.1 313.8 1485.1 312.3 1487.0 310.7 1488.8 309.1 1490.6 307.4 1492.4 305.8 1494.2 304.2 1496.0 302.8 1497.9 301.5 1499.7 300.4 1501.5 299.5 1503.3 298.6 1505.1 297.8 1506.9 297.2 1508.7 296.6 1510.5 296.2 1512.3 295.8 1514.2 295.6 1516.2 295.6 1518.3 295.7 1520.4 296.0 1522.6 296.5 1524.7 297.3 1526.9 298.1 1529.2 299.1 1531.6 300.1 1534.1 301.2 1536.7 302.2 1539.5 303.2 1542.5 304.1 1545.8 305.0 1549.3 305.8 1553.1 306.7 1557.0 307.6 1561.0 308.5 1565.1 309.4 1569.1 310.2 1572.9 311.0 1576.6 311.8 1580.0 312.5 1583.1 313.2 1585.8 313.8 1588.3 314.4 1590.7 314.9 1593.1 315.5 1595.5 316.0 1598.0 316.4 1600.8 316.8 1603.9 317.2 1607.4 317.5 1611.3 317.8 1615.6 318.0 1620.2 318.2 1624.9 318.4 1629.9 318.5 1634.9 318.5 1640.0 318.5 1645.0 318.5 1650.0 318.4 1654.8 318.3 1659.5 318.1 1664.3 317.8 1669.0 317.5 1673.8 317.1 1678.5 316.6 1683.2 316.2 1688.0 315.7 1692.7 315.2 1697.5 314.7 1702.2 314.3 1707.0 313.9 1711.9 313.4 1716.9 312.9 1721.9 312.5 1726.9 312.0 1731.8 311.5 1736.5 311.0 1741.1 310.6 1745.5 310.1 1749.6 309.6 1753.4 309.1 1757.1 308.6 1760.5 308.1 1763.8 307.6 1766.9 307.1 1769.9 306.5 1772.8 306.1 1775.6 305.6 1778.4 305.2 1781.2 304.8 1783.9 304.4 1786.4 304.1 1788.9 303.8 1791.2 303.4 1793.5 303.2 1795.8 302.9 1798.0 302.7 1800.3 302.6 1802.6 302.5 1804.9 302.5 1807.2 302.6 1809.5 302.8 1811.8 303.2 1814.0 303.5 1816.3 304.0 1818.6 304.4 1820.9 304.8 1823.4 305.1 1825.9 305.4 1828.6 305.6 1831.5 305.7 1834.6 305.8 1837.8 305.8 1841.2 305.9 1844.6 305.8 1848.0 305.7 1851.3 305.6 1854.5 305.4 1857.5 305.1 1860.2 304.8 1862.7 304.4 1865.0 303.9 1867.2 303.3 1869.3 302.6 1871.2 302.0 1873.1 301.2 1875.0 300.4 1876.9 299.6 1878.8 298.8 1880.7 297.9 1882.7 297.1 1884.6 296.2 1886.6 295.4 1888.5 294.6 1890.5 293.7 1892.4 292.7 1894.3 291.6 1896.1 290.4 1898.0 289.0 1899.8 287.5 1901.6 285.8 1903.4 283.8 1905.2 281.8 1906.9 279.6 1908.6 277.3 1910.3 274.9 1912.0 272.5 1913.7 270.0 1915.4 267.5 1917.0 265.1 1918.6 262.6 1920.3 260.1 1921.9 257.5 1923.4 254.8 1925.0 252.1 1926.6 249.4 1928.1 246.7 1929.6 244.1 1931.1 241.6 1932.6 239.1 1934.1 236.7 1935.5 234.2 1937.0 231.7 1938.4 229.3 1939.8 226.9 1941.2 224.6 1942.6 222.4 1943.9 220.3 1945.2 218.4 1946.4 216.7 1947.6 215.2 1948.7 213.9 1949.7 212.7 1950.7 211.6 1951.7 210.7 1952.7 209.8 1953.7 209.1 1954.7 208.4 1955.7 207.8 1956.8 207.2 1957.9 206.7 1959.1 206.2 1961.3 205.6 1963.7 205.3 1965.0 205.2 1966.2 205.2 1967.5 205.3 1968.9 205.4 1970.3 205.6 1971.8 205.8 1973.3 206.2 1974.8 206.6 1976.4 207.1 1978.0 207.6 1979.6 208.1 1981.2 208.7 1982.9 209.2 1984.5 209.8 1986.2 210.4 1987.8 211.1 1989.5 211.8 1991.3 212.5 1993.0 213.3 1994.7 214.0 1996.5 214.7 1998.2 215.4 2000.0 216.1 2001.7 216.7 2003.5 217.3 2005.4 217.8 2007.3 218.3 2009.2 218.8 2011.2 219.2 2013.0 219.6 2014.8 220.0 2016.4 220.4 2017.8 220.7 2019.0 221.0 2020.8 221.4 2022.3 221.7 2023.4 222.7 2023.5 224.9 2023.6 226.3 2023.7 227.8 2023.7 229.3 2023.7 230.8 2023.7 232.3 2023.6 233.7 2023.4 235.0 2022.9 237.2 2022.3 239.2 2021.5 241.2 2020.4 243.4 2019.8 244.7 2019.0 246.1 2018.1 247.7 2017.2 249.4 2016.1 251.2 2015.0 253.1 2013.8 255.1 2012.5 257.1 2011.2 259.2 2009.8 261.2 2008.4 263.2 2006.9 265.1 2005.4 267.0 2003.8 268.9 2002.1 270.8 2000.3 272.7 1998.6 274.6 1996.8 276.5 1994.9 278.4 1993.1 280.3 1991.3 282.2 1989.6 284.1 1987.9 286.0 1986.1 287.9 1984.3 289.8 1982.5 291.7 1980.7 293.6 1978.9 295.5 1977.2 297.4 1975.5 299.3 1973.9 301.2 1972.4 303.1 1971.0 305.0 1969.7 306.9 1968.5 308.7 1967.3 310.6 1966.1 312.5 1965.0 314.4 1963.9 316.3 1962.8 318.2 1961.6 320.1 1960.3 322.1 1959.0 324.1 1957.6 326.1 1956.3 328.0 1954.9 330.0 1953.5 332.1 1952.0 334.1 1950.6 336.2 1949.2 338.4 1947.8 340.6 1946.4 342.9 1945.0 345.3 1943.6 347.7 1942.2 350.1 1940.8 352.6 1939.4 355.2 1938.0 357.8 1936.6 360.5 1935.2 363.2 1933.9 366.0 1932.6 368.8 1931.3 371.8 1930.1 374.9 1928.9 378.2 1927.7 381.6 1926.5 385.0 1925.4 388.3 1924.2 391.5 1923.0 394.6 1921.8 397.4 1920.5 399.9 1919.2 402.2 1917.9 404.5 1916.6 406.6 1915.2 408.6 1913.9 410.4 1912.5 412.0 1911.1 413.4 1909.7 414.6 1908.2 415.4 1906.7 416.0 1905.2 416.2 1903.6 416.0 1902.0 415.4 1900.3 414.6 1898.6 413.5 1896.9 412.4 1895.2 411.2 1893.5 410.0 1891.7 408.9 1890.0 408.0 1888.2 407.2 1886.4 406.3 1884.6 405.4 1882.7 404.5 1880.9 403.6 1879.0 402.7 1877.1 401.8 1875.3 401.0 1873.5 400.1 1871.7 399.3 1870.0 398.5 1868.2 397.7 1866.5 397.0 1864.9 396.2 1863.2 395.5 1861.5 394.7 1859.9 394.0 1858.3 393.3 1856.6 392.7 1855.0 392.0 1853.4 391.4 1851.9 390.7 1850.5 390.1 1849.0 389.6 1847.6 389.0 1846.1 388.4 1844.6 387.9 1842.9 387.4 1841.1 386.8 1839.2 386.3 1837.0 385.8 1834.4 385.2 1831.6 384.6 1828.7 384.1 1825.8 383.5 1823.0 383.0 1820.3 382.6 1817.9 382.1 1815.9 381.8 1814.4 381.5" stroke="#ff0000"/>
<path d="M1792.6 364.4 1789.2 364.6 1785.7 364.8 1782.2 365.0 1778.7 365.2 1775.3 365.4 1771.8 365.6 1768.3 365.8 1764.9 366.0 1761.4 366.1 1757.9 366.3 1754.4 366.5 1751.0 366.7 1747.5 366.9 1744.0 367.1 1740.5 367.3 1737.1 367.4 1733.6 367.6 1730.1 367.8 1726.7 368.0 1723.2 368.2 1719.7 368.3 1716.2 368.5 1712.8 368.7 1709.3 368.9 1705.8 369.1 1702.3 369.2 1698.9 369.4 1695.4 369.6 1691.9 369.8 1688.4 370.0 1685.0 370.1 1681.5 370.3 1678.0 370.5 1674.6 370.7 1671.1 370.9 1667.6 371.1 1664.1 371.2 1660.7 371.4 1657.2 371.6 1653.7 371.8 1650.2 372.0 1646.8 372.1 1643.3 372.3 1639.8 372.5 1636.3 372.6 1632.9 372.8 1629.4 373.0 1625.9 373.1 1622.5 373.3 1619.0 373.4 1615.5 373.6 1612.0 373.7 1608.6 373.9 1605.1 374.0 1601.6 374.1 1598.1 374.3 1594.7 374.4 1591.2 374.5 1587.7 374.7 1584.2 374.8 1580.8 374.9 1577.3 375.0 1573.8 375.2 1570.3 375.3 1566.8 375.4 1563.4 375.5 1559.9 375.7 1556.4 375.8 1552.9 375.9 1549.5 376.0 1546.0 376.2 1542.5 376.3 1539.0 376.4 1535.6 376.5 1532.1 376.6 1528.6 376.8 1525.1 376.9 1521.7 377.0 1518.2 377.1 1514.7 377.3 1511.2 377.4 1507.8 377.5 1504.3 377.6 1500.8 377.8 1497.3 377.9 1493.9 378.0 1490.4 378.1 1486.9 378.3 1483.4 378.4 1480.0 378.5 1476.5 378.7 1473.0 378.8 1469.5 378.9 1466.1 379.1 1462.6 379.2 1459.1 379.3 1455.6 379.4 1452.2 379.6 1448.7 379.7 1445.2 379.8 1441.7 380.0 1438.3 380.1 1434.8 380.2 1431.3 380.4 1427.8 380.5 1424.4 380.6 1420.9 380.7 1417.4 380.9 1413.9 381.0 1410.5 381.1 1407.0 381.2 1403.5 381.4 1400.0 381.5 1396.6 381.6 1393.1 381.8 1389.6 381.9 1386.1 382.0 1382.6 382.1 1379.2 382.3 1375.7 382.4 1372.2 382.6 1368.7 382.7 1365.3 382.8 1361.8 383.0 1358.3 383.2 1354.9 383.3 1351.4 383.5 1347.9 383.7 1344.4 383.9 1341.0 384.0 1337.5 384.2 1334.0 384.4 1330.5 384.6 1327.1 384.8 1323.6 385.0 1320.1 385.2 1316.7 385.4 1313.2 385.6 1309.7 385.9 1306.2 386.1 1302.8 386.4 1299.3 386.6 1295.8 386.9 1292.4 387.1 1288.9 387.4 1285.4 387.7 1282.0 388.0 1278.5 388.3 1275.0 388.6 1271.6 388.8 1268.1 389.1 1264.6 389.5 1261.2 389.8 1257.7 390.2 1254.3 390.7 1250.9 391.3 1247.6 392.0 1244.3 392.8 1241.0 393.7 1237.8 394.7 1234.6 395.9 1231.5 397.3 1228.6 399.1 1225.8 401.0 1222.9 402.9 1220.1 404.9 1217.6 407.2 1215.3 409.7 1213.3 412.6 1211.6 415.5 1210.0 418.6 1208.5 421.7 1207.0 424.8 1205.5 427.9 1204.2 431.1 1202.8 434.4 1201.5 437.6 1200.2 440.8 1198.9 444.0 1197.8 447.3 1196.7 450.6 1195.7 453.9 1194.7 457.2 1193.7 460.6 1192.8 463.9 1191.8 467.3 1190.9 470.6 1190.0 474.0 1189.1 477.3 1188.3 480.7 1187.4 484.1 1186.6 487.5 1185.7 490.8 1184.9 494.2 1184.0 497.6 1183.2 500.9 1182.3 504.3 1181.3 507.7 1180.4 511.0 1179.3 514.3 1178.3 517.6 1177.1 520.9 1176.0 524.2 1174.7 527.4 1173.4 530.6 1172.1 533.8 1170.6 536.9 1169.1 540.0 1167.4 543.0 1165.6 545.8 1163.7 548.6 1161.6 551.1 1159.4 552.9 1157.2 554.4 1154.9 555.7 1152.5 556.8 1149.6 557.2 1146.6 556.2 1143.9 554.0 1141.6 551.4 1139.4 548.7 1137.4 545.9 1135.5 543.0 1133.5 540.1 1131.5 537.3 1129.5 534.5 1127.3 531.7 1125.2 529.0 1122.9 526.3 1120.7 523.7 1118.4 521.1 1116.1 518.5 1113.7 515.9 1111.3 513.4 1108.9 511.0 1106.3 508.7 1103.7 506.4 1101.1 504.1 1098.4 502.0 1095.6 499.9 1092.7 497.9 1089.8 496.0 1086.9 494.2 1083.9 492.5 1080.8 490.9 1077.6 489.3 1074.5 487.9 1071.3 486.5 1068.1 485.2 1064.8 483.9 1061.6 482.7 1058.3 481.4 1055.1 480.2 1051.8 479.0 1048.6 477.8 1045.3 476.7 1041.9 475.8 1038.6 475.0 1035.1 474.3 1031.7 473.7 1028.3 473.3 1024.8 472.9 1021.4 472.6 1017.9 472.3 1014.4 472.1 1010.9 471.9 1007.5 471.9 1004.0 472.1 1000.6 472.6 997.2 473.3 993.8 474.2 990.5 475.3 987.3 476.5 984.1 477.9 981.1 479.5 978.1 481.3 975.2 483.3 972.4 485.2 969.6 487.2 966.7 489.1 963.8 491.0 960.8 492.8 957.8 494.5 954.7 496.1 951.6 497.8 948.6 499.5 945.7 501.4 942.8 503.3 940.0 505.4 937.2 507.4 934.5 509.5 931.7 511.6 929.0 513.7 926.2 515.9 923.5 518.0 920.7 520.0 917.9 522.1 915.2 524.2 912.4 526.2 909.6 528.3 906.9 530.4 904.1 532.5 901.3 534.6 898.6 536.7 895.8 538.7 892.9 540.7 890.0 542.4 887.1 544.0 884.4 546.1 882.0 548.6 879.9 551.4 878.1 554.4 876.4 557.4 874.7 560.4 873.1 563.5 871.5 566.6 870.0 569.7 868.6 572.9 867.2 576.1 865.9 579.3 864.6 582.5 863.4 585.8 862.2 589.1 861.1 592.4 860.1 595.7 859.2 599.1 858.3 602.4 857.4 605.8 856.6 609.2 855.9 612.6 855.1 616.0 854.4 619.4 853.7 622.8 853.0 626.2 852.3 629.6 851.7 633.0 851.0 636.4 850.4 639.8 849.8 643.3 849.2 646.7 848.7 650.1 848.1 653.6 847.5 657.0 847.0 660.4 846.4 663.9 845.9 667.3 845.3 670.7 844.8 674.2 844.3 677.6 843.7 681.0 843.2 684.5 842.7 687.9 842.1 691.3 841.6 694.8 841.1 698.2 840.6 701.7 840.1 705.1 839.6 708.5 839.1 712.0 838.7 715.4 838.2 718.9 837.8 722.3 837.3 725.8 836.9 729.2 836.5 732.7 836.1 736.2 835.7 739.6 835.3 743.1 835.0 746.5 834.6 750.0 834.3 753.4 833.9 756.9 833.6 760.4 833.3 763.8 832.9 767.3 832.6 770.8 832.3 774.2 831.9 777.7 831.6 781.1 831.3 784.6 831.0 788.1 830.6 791.5 830.3 795.0 830.0 798.5 829.7 801.9 829.3 805.4 829.0 808.8 828.7 812.3 828.3 815.8 828.0 819.2 827.7 822.7 827.3 826.1 827.0 829.6 826.7 833.1 826.4 836.5 826.0 840.0 824.8 840.0 824.5 844.0 824.1 849.2 823.6 855.4 823.1 862.3 822.6 869.8 822.0 877.5 821.4 885.2 820.7 892.7 820.1 899.8 819.5 906.2 818.9 912.1 818.3 917.9 817.6 923.5 817.0 929.0 816.3 934.4 815.6 939.6 814.9 944.7 814.2 949.7 813.5 954.5 812.8 959.2 812.1 963.8 811.3 968.3 810.6 972.6 809.8 976.8 809.0 980.9 808.2 984.9 807.4 988.7 806.6 992.3 805.8 995.7 804.9 999.0 804.0 1002.2 803.1 1005.2 802.2 1008.2 801.3 1011.1 800.3 1013.7 799.4 1016.1 798.4 1018.3 797.5 1020.2 796.5 1021.7 795.6 1022.8 793.8 1023.6 792.1 1022.7 791.3 1021.8 790.4 1020.8 789.5 1019.8 788.5 1018.9 787.5 1018.1 786.4 1017.5 785.2 1017.1 784.0 1016.8 782.7 1016.5 781.4 1016.3 780.0 1016.1 778.6 1015.8 777.2 1015.6 775.8 1015.4 774.4 1015.1 773.1 1014.8 771.8 1014.5 770.6 1014.1 769.3 1013.7 768.1 1013.3 766.9 1012.9 765.7 1012.5 764.3 1012.1 763.0 1011.7 761.5 1011.3 759.9 1010.9 758.2 1010.5 756.3 1010.2 754.3 1009.9 752.2 1009.6 750.1 1009.3 748.0 1009.0 745.9 1008.6 743.8 1008.1 741.9 1007.6 740.0 1006.9 738.2 1006.0 736.5 1005.0 734.8 1003.8 733.2 1002.5 731.6 1001.2 730.1 999.9 728.5 998.7 727.0 997.7 725.5 996.9 724.0 996.4 722.5 996.2 721.0 996.1 719.6 996.2 718.1 996.5 716.7 996.8 715.3 997.3 713.9 997.9 712.6 998.6 711.4 999.3 710.2 1000.1 709.1 1000.9 708.1 1001.9 707.1 1002.9 706.2 1004.0 705.3 1005.2 704.4 1006.5 703.6 1007.8 702.8 1009.2 701.9 1010.6 701.0 1012.1 700.1 1013.6 699.1 1015.3 698.2 1017.0 697.2 1018.8 696.2 1020.6 695.3 1022.5 694.4 1024.4 693.5 1026.3 692.7 1028.1 692.0 1030.0 691.4 1031.8 690.9 1033.4 690.5 1034.9 690.1 1036.5 689.8 1038.1 689.5 1039.8 689.0 1041.7 688.5 1043.8 687.8 1046.2 686.9 1049.0 685.8 1052.2 684.5 1055.9 683.1 1060.0 681.6 1064.3 680.0 1068.7 678.4 1073.2 676.8 1077.6 675.1 1081.9 673.5 1085.9 672.0 1089.5 670.6 1092.8 669.2 1096.0 667.8 1099.1 666.5 1102.0 665.2 1104.8 663.8 1107.5 662.3 1110.1 660.8 1112.6 659.2 1114.9 657.4 1117.2 655.5 1119.3 653.4 1121.3 651.2 1123.1 648.9 1124.7 646.6 1126.3 644.2 1127.8 641.9 1129.3 639.6 1130.8 637.4 1132.3 635.3 1133.8 633.3 1135.3 631.2 1136.9 629.2 1138.3 627.2 1139.8 625.2 1141.3 623.4 1142.7 621.6 1144.1 619.9 1145.6 618.3 1147.0 616.9 1148.5 615.6 1150.0 614.5 1151.7 613.4 1153.4 612.5 1155.1 611.6 1156.8 610.8 1158.4 610.2 1159.9 609.6 1161.3 609.0 1162.4 608.9 1160.0 609.2 1155.8 609.6 1150.8 610.0 1145.2 610.4 1139.1 610.9 1132.8 611.5 1126.3 612.0 1119.9 612.6 1113.8 613.2 1108.0 613.8 1102.4 614.5 1096.8 615.1 1091.1 615.8 1085.4 616.6 1079.8 617.3 1074.2 618.1 1068.6 618.9 1063.2 619.7 1057.9 620.5 1052.7 621.3 1047.7 622.2 1042.7 623.1 1037.9 624.0 1033.1 624.9 1028.4 625.8 1023.9 626.8 1019.4 627.8 1015.0 628.8 1010.8 629.8 1006.6 630.9 1002.6 632.0 998.8 633.2 995.1 634.4 991.5 635.6 988.0 636.8 984.6 638.1 981.1 639.2 977.7 640.4 974.2 641.5 970.6 642.6 966.9 643.6 963.3 644.6 959.6 645.6 955.9 646.6 952.2 647.5 948.5 648.5 944.8 649.4 941.1 650.3 937.4 651.2 933.7 652.1 930.0 653.0 926.3 653.8 922.7 654.6 919.0 655.5 915.3 656.3 911.6 657.1 907.9 657.9 904.3 658.7 900.6 659.5 896.9 660.3 893.2 661.1 889.4 662.0 885.6 662.8 881.8 663.6 878.0 664.4 874.3 665.2 870.6 666.0 867.0 666.7 863.4 667.4 860.0 668.0 856.7 668.6 853.6 669.2 850.7 669.7 847.8 670.2 844.9 670.7 842.0 671.2 839.1 671.8 836.2 672.4 833.1 673.1 829.8 673.9 826.4 674.8 822.8 675.7 819.2 676.6 815.5 677.6 811.8 678.6 808.0 679.6 804.2 680.6 800.4 681.5 796.6 682.4 792.9 683.2 789.2 684.0 785.5 684.8 781.9 685.5 778.2 686.2 774.5 687.0 770.8 687.7 767.1 688.5 763.5 689.3 759.8 690.2 756.1 691.1 752.5 692.1 748.9 693.0 745.4 694.0 741.9 695.0 738.4 696.0 734.8 697.1 731.1 698.2 727.3 699.2 723.4 700.3 719.2 701.4 714.8 702.5 710.0 703.6 705.1 704.7 700.0 705.9 694.9 707.0 689.8 708.2 684.7 709.4 679.8 710.6 675.0 711.8 670.6 713.0 666.4 714.1 662.5 715.2 658.7 716.3 655.0 717.4 651.4 718.6 647.9 719.9 644.4 721.3 640.9 722.9 637.3 724.7 633.7 726.7 630.0 729.0 626.3 731.5 622.7 734.1 619.0 736.8 615.3 739.5 611.6 742.2 607.9 744.8 604.3 747.3 600.6 749.6 596.9 751.8 593.2 753.8 589.6 755.8 586.1 757.7 582.5 759.6 578.9 761.5 575.3 763.3 571.6 765.1 567.8 767.0 564.0 768.9 560.0 770.8 555.9 772.6 551.8 774.4 547.6 776.2 543.3 778.0 538.9 779.9 534.5 781.8 530.0 783.8 525.4 785.9 520.8 788.1 516.1 790.5 511.2 793.1 506.0 795.8 500.6 798.6 495.1 801.5 489.6 804.3 484.2 807.1 479.0 809.8 474.0 812.4 469.5 814.7 465.4 816.8 461.9 818.7 458.9 820.5 456.3 822.1 453.9 823.7 451.8 825.3 449.7 827.0 447.6 828.7 445.4 830.5 442.9 832.5 440.0 834.7 436.7 836.9 433.2 839.3 429.4 841.7 425.5 844.2 421.6 846.7 417.7 849.2 413.8 851.8 410.2 854.3 406.9 856.8 403.9 859.3 401.3 861.8 398.8 864.2 396.6 866.7 394.6 869.2 392.7 871.7 391.0 874.3 389.3 876.9 387.7 879.6 386.0 882.3 384.4 885.1 382.8 887.9 381.3 890.7 379.8 893.6 378.4 896.5 377.1 899.5 375.8 902.5 374.5 905.6 373.3 908.9 372.1 912.2 370.9 915.6 369.8 919.0 368.7 922.4 367.7 925.9 366.7 929.5 365.7 933.2 364.8 937.1 363.8 941.2 362.9 945.5 361.9 950.0 360.9 954.9 359.9 960.0 358.8 965.4 357.7 971.0 356.6 976.8 355.5 982.6 354.5 988.5 353.4 994.4 352.4 1000.1 351.4 1005.8 350.4 1011.4 349.5 1016.9 348.6 1022.5 347.7 1028.1 346.8 1033.7 345.9 1039.2 345.1 1044.8 344.3 1050.4 343.5 1055.9 342.7 1061.5 342.0 1067.1 341.3 1072.9 340.6 1078.7 339.9 1084.5 339.3 1090.3 338.7 1096.0 338.1 1101.6 337.5 1107.0 336.9 1112.3 336.4 1117.3 335.8 1122.1 335.2 1126.8 334.6 1131.3 334.0 1135.7 333.4 1139.9 332.9 1144.1 332.3 1148.0 331.9 1151.9 331.5 1155.5 331.1 1159.1 330.9 1162.3 330.8 1165.0 330.8 1167.4 330.9 1169.6 331.0 1171.7 331.2 1174.0 331.5 1176.5 331.7 1179.4 332.0 1182.9 332.2 1187.0 332.3 1192.1 332.4 1198.0 332.5 1204.6 332.6 1211.6 332.7 1218.8 332.8 1226.0 332.9 1232.9 332.9 1239.4 333.0 1245.2 333.0 1250.0 333.0 1253.6 333.0 1256.0 332.9 1257.6 332.9 1259.6 332.7 1262.1 332.4 1264.5 332.3 1268.0 332.1 1272.9 332.0 1279.5 331.9 1287.6 331.7 1296.8 331.6 1306.8 331.4 1317.3 331.2 1328.0 331.0 1338.5 330.8 1348.6 330.6 1357.8 330.4 1365.9 330.1 1373.1 329.8 1379.7 329.5 1385.9 329.2 1391.8 328.8 1397.2 328.5 1402.4 328.1 1407.4 327.7 1412.2 327.3 1416.9 326.9 1421.6 326.4 1426.1 326.0 1430.4 325.7 1434.4 325.4 1438.3 325.1 1441.9 324.8 1445.5 324.3 1448.9 323.8 1452.3 323.0 1455.5 322.0 1458.8 320.8 1462.0 319.3 1465.0 317.4 1468.0 315.4 1470.8 313.2 1473.6 310.8 1476.3 308.4 1478.9 305.9 1481.5 303.3 1484.1 300.9 1486.7 298.5 1489.3 296.1 1492.0 293.4 1494.6 290.7 1497.2 287.9 1499.7 285.2 1502.2 282.5 1504.6 280.0 1506.8 277.8 1509.0 275.9 1510.9 274.3 1512.6 273.1 1514.1 272.2 1515.4 271.6 1516.5 271.2 1518.7 271.0 1521.0 271.2 1522.3 271.4 1523.9 271.6 1525.7 271.9 1527.6 272.3 1529.7 272.8 1531.8 273.4 1534.0 274.1 1536.3 274.9 1538.5 275.6 1540.7 276.4 1542.9 277.2 1545.0 278.0 1547.0 278.8 1549.0 279.6 1550.9 280.4 1552.8 281.3 1554.8 282.2 1556.7 283.1 1558.7 284.0 1560.7 284.8 1562.8 285.7 1565.0 286.5 1567.3 287.3 1569.8 288.1 1572.4 288.9 1575.0 289.7 1577.7 290.5 1580.3 291.3 1582.9 292.0 1585.4 292.7 1587.8 293.4 1590.0 294.0 1591.9 294.6 1593.5 295.1 1594.8 295.6 1596.1 296.1 1597.3 296.5 1598.6 296.9 1600.2 297.3 1602.1 297.7 1604.5 298.1 1607.4 298.5 1610.9 298.9 1615.0 299.3 1619.4 299.8 1624.2 300.2 1629.2 300.6 1634.4 300.9 1639.6 301.3 1644.8 301.5 1649.9 301.6 1654.8 301.7 1659.5 301.7 1664.3 301.5 1669.0 301.3 1673.8 301.1 1678.5 300.7 1683.2 300.4 1688.0 299.9 1692.7 299.5 1697.5 299.0 1702.2 298.5 1707.0 297.9 1711.8 297.3 1716.7 296.7 1721.5 295.9 1726.4 295.2 1731.2 294.4 1736.0 293.7 1740.6 292.9 1745.2 292.1 1749.6 291.4 1753.9 290.7 1758.3 289.9 1762.5 289.1 1766.7 288.4 1770.8 287.6 1774.8 286.9 1778.7 286.1 1782.3 285.5 1785.8 284.9 1789.1 284.3 1792.1 283.8 1794.7 283.3 1797.1 282.9 1799.3 282.4 1801.4 282.1 1803.5 281.7 1805.6 281.5 1807.8 281.3 1810.2 281.1 1812.8 281.1 1815.7 281.2 1818.9 281.4 1822.2 281.7 1825.6 282.1 1829.1 282.5 1832.5 283.0 1835.8 283.4 1839.0 283.8 1841.9 284.1 1844.4 284.3 1846.5 284.4 1848.2 284.6 1849.7 284.6 1850.9 284.7 1853.2 284.7 1854.4 284.6 1855.9 284.5 1857.7 284.3 1860.0 284.1 1862.7 283.8 1865.8 283.5 1869.3 283.1 1872.9 282.7 1876.7 282.2 1880.5 281.7 1884.3 281.1 1887.9 280.5 1891.4 279.7 1894.6 278.9 1897.6 278.0 1900.5 276.9 1903.3 275.8 1906.0 274.6 1908.6 273.4 1911.2 272.1 1913.6 270.8 1916.0 269.4 1918.3 268.1 1920.5 266.8 1922.5 265.5 1924.4 264.2 1926.1 262.8 1927.6 261.5 1929.1 260.1 1930.7 258.7 1932.2 257.3 1933.9 255.9 1935.8 254.5 1937.8 253.0 1940.0 251.4 1942.3 249.7 1944.7 247.9 1947.1 246.1 1949.7 244.2 1952.3 242.5 1955.0 240.9 1957.8 239.4 1960.7 238.3 1963.7 237.4 1966.9 236.9 1970.3 236.6 1973.9 236.6 1977.6 236.8 1981.3 237.2 1985.0 237.6 1988.7 238.0 1992.1 238.5 1995.4 238.8 1998.3 239.1 2001.0 239.3 2003.6 239.5 2006.1 239.7 2008.4 239.9 2010.6 240.1 2012.6 240.3 2014.5 240.5 2016.2 240.6 2017.7 240.8 2019.0 240.9 2020.9 241.0 2022.3 241.1 2023.0 242.3 2023.1 244.0 2023.2 246.0 2023.4 248.2 2023.5 250.6 2023.5 253.1 2023.5 255.6 2023.5 257.9 2023.3 260.1 2023.0 262.0 2022.6 263.7 2022.2 265.1 2021.6 266.5 2021.0 267.8 2020.4 269.0 2019.6 270.2 2018.8 271.5 2017.8 272.9 2016.8 274.3 2015.6 276.0 2014.3 277.8 2012.8 279.9 2011.1 282.0 2009.4 284.2 2007.6 286.5 2005.7 288.8 2003.8 291.0 2001.9 293.1 2000.1 295.2 1998.3 297.0 1996.6 298.7 1994.8 300.3 1993.1 301.8 1991.4 303.2 1989.7 304.6 1987.9 305.9 1986.2 307.2 1984.5 308.4 1982.7 309.7 1981.0 311.0 1979.3 312.3 1977.5 313.5 1975.8 314.6 1974.1 315.8 1972.3 316.9 1970.6 318.0 1968.9 319.2 1967.2 320.4 1965.4 321.6 1963.7 323.0 1962.0 324.4 1960.2 325.9 1958.5 327.4 1956.8 329.0 1955.1 330.6 1953.3 332.3 1951.6 333.9 1949.9 335.6 1948.1 337.3 1946.4 339.0 1944.7 340.7 1942.9 342.5 1941.2 344.3 1939.5 346.1 1937.7 347.9 1936.0 349.8 1934.3 351.6 1932.6 353.4 1930.8 355.2 1929.1 357.0 1927.4 358.8 1925.7 360.6 1923.9 362.4 1922.2 364.2 1920.5 366.0 1918.8 367.7 1917.1 369.4 1915.3 371.0 1913.6 372.6 1911.9 374.0 1910.2 375.4 1908.4 376.7 1906.7 378.0 1905.0 379.3 1903.3 380.4 1901.5 381.5 1899.8 382.4 1898.1 383.2 1896.3 383.9 1894.6 384.3 1892.9 384.5 1891.1 384.5 1889.4 384.3 1887.7 383.9 1885.9 383.5 1884.2 383.0 1882.5 382.4 1880.8 381.9 1879.0 381.4 1877.3 381.0 1875.6 380.7 1873.8 380.4 1872.1 380.0 1870.3 379.7 1868.6 379.4 1866.8 379.1 1865.1 378.8 1863.4 378.5 1861.7 378.3 1860.0 378.0 1858.4 377.8 1857.0 377.5 1855.6 377.3 1854.3 377.1 1852.9 376.9 1851.5 376.7 1849.9 376.5 1848.2 376.4 1846.2 376.2 1844.0 376.0 1841.4 375.8 1838.5 375.6 1835.3 375.5 1831.9 375.3 1828.4 375.1 1824.8 374.9 1821.4 374.8 1818.0 374.7 1814.9 374.6 1812.0 374.5 1809.3 374.5 1806.6 374.5 1804.0 374.5 1801.4 374.6 1799.0 374.7 1796.7 374.7 1794.7 374.8 1792.8 374.9 1791.3 375.0 1790.0 375.0" stroke="#0000ff"/>
<path d="M1786.9 365.9 1783.4 366.1 1779.9 366.3 1776.5 366.5 1773.0 366.7 1769.5 366.9 1766.1 367.1 1762.6 367.3 1759.1 367.5 1755.7 367.7 1752.2 367.9 1748.7 368.1 1745.3 368.3 1741.8 368.5 1738.3 368.7 1734.9 368.9 1731.4 369.1 1727.9 369.3 1724.5 369.5 1721.0 369.7 1717.5 369.9 1714.1 370.1 1710.6 370.3 1707.1 370.5 1703.7 370.7 1700.2 370.9 1696.7 371.1 1693.3 371.3 1689.8 371.5 1686.3 371.7 1682.9 371.8 1679.4 372.0 1675.9 372.2 1672.5 372.4 1669.0 372.6 1665.5 372.8 1662.1 373.0 1658.6 373.2 1655.1 373.4 1651.7 373.6 1648.2 373.8 1644.7 373.9 1641.3 374.1 1637.8 374.3 1634.3 374.5 1630.9 374.7 1627.4 374.8 1623.9 375.0 1620.5 375.2 1617.0 375.3 1613.5 375.5 1610.1 375.6 1606.6 375.8 1603.1 375.9 1599.6 376.1 1596.2 376.2 1592.7 376.4 1589.2 376.5 1585.8 376.7 1582.3 376.8 1578.8 377.0 1575.4 377.1 1571.9 377.3 1568.4 377.4 1565.0 377.5 1561.5 377.7 1558.0 377.8 1554.5 378.0 1551.1 378.1 1547.6 378.2 1544.1 378.4 1540.7 378.5 1537.2 378.7 1533.7 378.8 1530.3 378.9 1526.8 379.1 1523.3 379.2 1519.9 379.4 1516.4 379.5 1512.9 379.6 1509.4 379.8 1506.0 379.9 1502.5 380.1 1499.0 380.2 1495.6 380.4 1492.1 380.5 1488.6 380.7 1485.2 380.8 1481.7 380.9 1478.2 381.1 1474.8 381.2 1471.3 381.4 1467.8 381.5 1464.4 381.7 1460.9 381.8 1457.4 382.0 1453.9 382.1 1450.5 382.3 1447.0 382.4 1443.5 382.6 1440.1 382.7 1436.6 382.9 1433.1 383.0 1429.7 383.2 1426.2 383.3 1422.7 383.5 1419.3 383.6 1415.8 383.7 1412.3 383.9 1408.8 384.0 1405.4 384.2 1401.9 384.3 1398.4 384.4 1395.0 384.5 1391.5 384.7 1388.0 384.8 1384.6 384.9 1381.1 385.1 1377.6 385.2 1374.1 385.3 1370.7 385.4 1367.2 385.6 1363.7 385.7 1360.3 385.9 1356.8 386.0 1353.3 386.2 1349.9 386.3 1346.4 386.5 1342.9 386.7 1339.5 386.9 1336.0 387.1 1332.5 387.2 1329.1 387.4 1325.6 387.6 1322.1 387.8 1318.7 388.0 1315.2 388.3 1311.7 388.5 1308.3 388.7 1304.8 389.0 1301.3 389.2 1297.9 389.5 1294.4 389.7 1290.9 390.0 1287.5 390.3 1284.0 390.6 1280.6 390.9 1277.1 391.2 1273.7 391.5 1270.2 391.8 1266.7 392.2 1263.3 392.5 1259.8 392.9 1256.4 393.3 1253.0 393.8 1249.6 394.5 1246.2 395.2 1242.9 396.2 1239.7 397.2 1236.6 398.5 1233.6 399.8 1230.6 401.3 1227.6 403.0 1224.9 405.0 1222.1 407.1 1219.5 409.2 1216.9 411.4 1214.6 413.9 1212.5 416.6 1210.7 419.5 1209.2 422.6 1207.8 425.7 1206.4 428.9 1205.0 432.0 1203.7 435.2 1202.4 438.5 1201.2 441.7 1200.0 444.9 1198.8 448.2 1197.6 451.5 1196.5 454.7 1195.5 458.1 1194.5 461.4 1193.6 464.7 1192.6 468.1 1191.7 471.4 1190.8 474.8 1190.0 478.1 1189.1 481.5 1188.2 484.9 1187.4 488.2 1186.5 491.6 1185.7 495.0 1184.8 498.3 1183.9 501.7 1183.1 505.0 1182.2 508.4 1181.3 511.7 1180.3 515.1 1179.3 518.4 1178.2 521.7 1177.1 525.0 1175.9 528.2 1174.6 531.5 1173.3 534.6 1171.9 537.8 1170.4 540.9 1168.7 543.9 1167.0 546.9 1165.1 549.7 1163.0 552.3 1160.8 554.8 1158.3 556.8 1155.8 558.0 1153.4 558.5 1151.0 558.8 1148.5 558.9 1145.8 558.5 1143.0 557.1 1140.5 554.7 1138.1 552.1 1136.0 549.4 1134.0 546.6 1132.0 543.7 1130.0 540.9 1128.0 538.0 1126.0 535.2 1123.8 532.5 1121.6 529.8 1119.3 527.2 1117.0 524.6 1114.7 522.0 1112.3 519.5 1109.9 517.1 1107.4 514.7 1104.8 512.4 1102.2 510.1 1099.5 507.9 1096.8 505.8 1094.0 503.7 1091.2 501.8 1088.3 499.9 1085.3 498.0 1082.3 496.3 1079.3 494.6 1076.2 493.1 1073.1 491.6 1069.9 490.2 1066.7 488.8 1063.5 487.5 1060.2 486.3 1057.0 485.1 1053.7 483.9 1050.5 482.7 1047.2 481.6 1043.9 480.5 1040.6 479.5 1037.2 478.6 1033.8 477.9 1030.4 477.3 1027.0 476.7 1023.5 476.3 1020.1 475.9 1016.6 475.6 1013.2 475.4 1009.7 475.1 1006.2 475.0 1002.8 475.0 999.3 475.2 995.9 475.6 992.4 476.2 989.1 476.9 985.7 477.8 982.5 478.9 979.3 480.2 976.2 481.7 973.1 483.4 970.2 485.1 967.3 487.0 964.3 488.8 961.4 490.6 958.4 492.3 955.4 494.0 952.3 495.7 949.3 497.3 946.2 498.9 943.2 500.7 940.2 502.5 937.3 504.4 934.5 506.3 931.6 508.3 928.8 510.3 926.0 512.3 923.1 514.3 920.3 516.2 917.5 518.2 914.6 520.2 911.8 522.1 908.9 524.0 906.1 526.0 903.2 527.9 900.4 529.9 897.5 531.8 894.7 533.8 891.9 535.9 889.1 538.0 886.4 540.0 883.6 542.0 881.0 544.0 878.5 546.3 876.3 548.9 874.2 551.7 872.5 554.7 870.8 557.7 869.2 560.8 867.6 563.9 866.1 567.0 864.6 570.1 863.2 573.3 861.8 576.5 860.4 579.7 859.1 582.9 857.9 586.2 856.7 589.4 855.6 592.7 854.6 596.0 853.7 599.4 852.8 602.7 852.0 606.1 851.3 609.5 850.5 612.9 849.8 616.3 849.2 619.7 848.5 623.1 847.9 626.5 847.2 629.9 846.6 633.3 845.9 636.8 845.3 640.2 844.7 643.6 844.1 647.0 843.6 650.4 843.0 653.9 842.4 657.3 841.9 660.7 841.3 664.2 840.8 667.6 840.2 671.0 839.7 674.4 839.2 677.9 838.6 681.3 838.1 684.7 837.6 688.2 837.1 691.6 836.6 695.0 836.1 698.5 835.6 701.9 835.1 705.4 834.6 708.8 834.1 712.2 833.7 715.7 833.2 719.1 832.8 722.6 832.4 726.0 831.9 729.5 831.5 732.9 831.1 736.4 830.7 739.8 830.4 743.3 830.0 746.7 829.6 750.2 829.3 753.6 828.9 757.1 828.5 760.5 828.2 764.0 827.8 767.4 827.5 770.9 827.2 774.3 826.8 777.8 826.5 781.2 826.1 784.7 825.8 788.2 825.5 791.6 825.1 795.1 824.8 798.5 824.4 802.0 824.1 805.4 823.7 808.9 823.4 812.3 823.1 815.8 822.7 819.3 822.4 822.7 822.1 826.2 821.7 829.6 821.4 833.1 821.1 836.5 820.8 840.0 820.5 844.0 820.1 849.2 819.6 855.4 819.1 862.3 818.6 869.8 818.0 877.5 817.4 885.2 816.7 892.7 816.1 899.8 815.5 906.2 814.9 912.1 814.3 917.9 813.7 923.5 813.0 929.0 812.4 934.4 811.7 939.6 811.0 944.7 810.3 949.7 809.6 954.5 808.9 959.2 808.2 963.8 807.4 968.4 806.6 972.8 805.8 977.2 805.0 981.3 804.2 985.3 803.3 989.1 802.5 992.7 801.7 996.0 800.9 999.0 800.1 1001.7 799.3 1004.1 798.6 1006.3 797.8 1008.3 797.0 1010.0 796.3 1011.5 795.5 1012.9 794.7 1014.1 793.8 1015.2 793.0 1016.2 791.3 1017.6 789.4 1018.4 787.6 1018.5 785.7 1018.2 783.7 1017.5 781.7 1016.3 780.7 1015.4 779.7 1014.4 778.6 1013.3 777.6 1012.2 776.5 1011.1 775.4 1010.1 774.3 1009.1 773.1 1008.2 771.9 1007.4 770.6 1006.8 769.3 1006.1 768.0 1005.6 766.7 1005.0 765.3 1004.4 763.9 1003.8 762.6 1003.1 761.2 1002.4 759.9 1001.6 758.5 1000.7 757.1 999.7 755.7 998.5 754.3 997.4 752.8 996.2 751.4 995.1 750.1 993.9 748.8 992.8 747.7 991.9 746.6 991.0 745.0 989.6 743.9 988.6 743.0 987.7 741.8 986.8 740.0 985.7 738.8 985.0 737.4 984.2 735.9 983.4 734.3 982.6 732.6 981.7 730.8 980.8 729.1 980.0 727.3 979.3 725.6 978.6 724.0 978.0 722.4 977.5 720.8 976.9 719.1 976.4 717.5 975.9 715.8 975.5 714.2 975.2 712.7 975.0 711.2 974.9 709.7 975.0 708.4 975.2 707.1 975.6 705.9 976.2 704.8 976.9 703.7 977.8 702.7 978.7 701.7 979.8 700.7 980.9 699.8 982.0 698.9 983.3 698.0 984.5 697.2 985.8 696.4 987.2 695.6 988.7 694.9 990.3 694.3 992.0 693.6 993.6 693.0 995.3 692.4 996.9 691.7 998.5 691.1 1000.0 690.5 1001.4 689.9 1002.8 689.4 1004.0 688.9 1005.3 688.3 1006.6 687.8 1007.9 687.3 1009.2 686.7 1010.6 686.0 1012.1 685.3 1013.8 684.5 1015.6 683.7 1017.6 682.9 1019.6 682.0 1021.8 681.1 1024.0 680.1 1026.2 679.1 1028.4 678.1 1030.6 677.1 1032.6 676.1 1034.6 675.1 1036.5 674.0 1038.3 673.0 1040.1 671.9 1041.8 670.9 1043.6 669.7 1045.3 668.5 1046.9 667.3 1048.6 666.0 1050.2 664.6 1051.8 663.1 1053.4 661.5 1055.1 659.8 1056.7 658.1 1058.3 656.3 1059.9 654.5 1061.4 652.7 1062.9 650.9 1064.3 649.1 1065.6 647.3 1066.8 645.6 1067.9 643.8 1068.9 642.0 1069.8 640.2 1070.7 638.4 1071.5 636.6 1072.2 634.9 1072.9 633.2 1073.6 631.6 1074.2 630.0 1074.9 628.5 1075.5 627.0 1076.1 625.6 1076.6 624.2 1077.1 622.9 1077.5 621.6 1078.0 620.3 1078.5 619.1 1079.0 618.0 1079.6 616.9 1080.3 615.8 1081.1 614.8 1082.0 613.8 1083.1 612.8 1084.1 611.9 1085.2 611.1 1086.3 610.3 1087.3 609.1 1088.9 608.9 1087.3 609.2 1084.5 609.6 1081.2 610.0 1077.4 610.4 1073.4 610.9 1069.2 611.5 1064.9 612.0 1060.7 612.6 1056.5 613.2 1052.7 613.8 1049.1 614.5 1045.5 615.2 1041.9 615.9 1038.3 616.6 1034.8 617.4 1031.2 618.1 1027.5 618.9 1023.7 619.7 1019.8 620.5 1015.8 621.3 1011.6 622.1 1007.2 622.9 1002.6 623.8 997.9 624.6 993.2 625.5 988.5 626.3 983.8 627.2 979.2 628.2 974.8 629.1 970.6 630.1 966.6 631.1 962.7 632.1 958.9 633.2 955.2 634.2 951.6 635.3 948.1 636.4 944.5 637.5 940.9 638.6 937.3 639.7 933.7 640.8 930.0 641.9 926.3 643.0 922.7 644.2 919.0 645.3 915.3 646.4 911.6 647.6 907.9 648.7 904.3 649.7 900.6 650.8 896.9 651.8 893.2 652.9 889.4 653.9 885.6 654.9 881.8 655.9 878.0 656.8 874.3 657.8 870.6 658.7 867.0 659.6 863.4 660.4 860.0 661.2 856.7 661.9 853.6 662.5 850.7 663.1 847.8 663.7 844.9 664.3 842.0 665.0 839.1 665.6 836.2 666.3 833.1 667.1 829.8 668.0 826.4 668.9 822.8 669.8 819.2 670.8 815.5 671.9 811.8 672.9 808.0 673.9 804.2 674.9 800.4 675.9 796.6 676.8 792.9 677.7 789.2 678.5 785.5 679.3 781.9 680.1 778.2 680.9 774.5 681.6 770.8 682.4 767.1 683.3 763.5 684.2 759.8 685.1 756.1 686.1 752.2 687.3 748.1 688.6 743.9 689.9 739.6 691.2 735.4 692.4 731.3 693.6 727.6 694.6 724.2 695.5 721.4 693.5 719.2 694.6 715.4 695.6 711.6 696.7 707.8 697.7 704.0 698.8 700.2 699.9 696.4 701.0 692.6 702.1 688.8 703.2 685.0 704.3 681.2 705.5 677.4 706.7 673.6 707.9 669.9 709.2 666.1 710.4 662.4 711.7 658.7 713.1 654.9 714.5 651.2 715.9 647.6 717.5 643.9 719.1 640.3 720.9 636.8 722.7 633.3 724.7 629.8 726.8 626.5 728.9 623.1 731.1 619.9 733.4 616.6 735.7 613.4 738.0 610.1 740.2 606.9 742.4 603.6 744.6 600.3 746.7 596.9 748.7 593.5 750.6 590.0 752.6 586.6 754.4 583.1 756.3 579.6 758.1 576.0 759.8 572.5 761.5 568.9 763.2 565.3 764.8 561.7 766.5 558.1 768.0 554.5 769.6 550.8 771.1 547.2 772.5 543.5 774.0 539.8 775.5 536.1 777.0 532.5 778.5 528.8 780.0 525.1 781.6 521.5 783.2 517.9 784.8 514.3 786.5 510.7 788.2 507.1 789.9 503.5 791.6 500.0 793.3 496.4 795.1 492.8 796.8 489.3 798.6 485.8 800.4 482.2 802.2 478.7 804.0 475.2 805.8 471.6 807.6 468.1 809.5 464.7 811.5 461.2 813.5 457.8 815.6 454.4 817.7 451.1 820.0 447.9 822.3 444.6 824.5 441.4 826.7 438.1 829.0 434.9 831.3 431.6 833.4 428.3 835.6 425.0 837.8 421.7 840.0 418.4 842.2 415.1 844.5 411.9 846.8 408.6 849.2 405.5 851.7 402.4 854.4 399.5 857.2 396.7 860.0 394.0 863.0 391.4 866.1 388.9 869.3 386.6 872.5 384.3 875.9 382.2 879.2 380.1 882.7 378.2 886.3 376.4 889.8 374.8 893.5 373.2 897.1 371.7 900.8 370.3 904.6 368.9 908.3 367.6 912.0 366.3 915.8 365.1 919.6 364.0 923.4 362.9 927.3 361.9 931.1 360.9 934.9 360.0 938.8 359.1 942.7 358.3 946.6 357.5 950.5 356.8 954.3 356.0 958.2 355.3 962.1 354.6 966.0 353.8 969.9 353.1 973.8 352.3 977.7 351.6 981.6 350.9 985.5 350.1 989.4 349.4 993.3 348.7 997.2 348.0 1001.1 347.4 1005.0 346.7 1008.9 346.0 1012.8 345.4 1016.7 344.8 1020.6 344.2 1024.6 343.6 1028.5 343.0 1032.4 342.5 1036.3 342.0 1040.3 341.5 1044.2 341.0 1048.1 340.5 1052.0 339.9 1056.0 339.4 1059.9 338.9 1063.8 338.4 1067.8 337.9 1071.7 337.4 1075.6 336.9 1079.5 336.3 1083.5 335.8 1087.4 335.3 1091.3 334.7 1095.2 334.2 1099.1 333.6 1103.0 333.1 1107.0 332.5 1110.9 331.9 1114.8 331.3 1118.7 330.7 1122.6 330.1 1126.5 329.4 1130.4 328.8 1134.3 328.1 1138.2 327.5 1142.1 326.8 1146.0 326.1 1149.9 325.5 1153.8 325.0 1157.7 324.5 1161.6 324.1 1165.5 323.9 1169.4 323.7 1173.3 323.6 1177.3 323.6 1181.2 323.7 1185.2 323.8 1189.1 323.9 1193.1 324.1 1197.1 324.3 1201.0 324.4 1205.0 324.6 1208.9 324.8 1212.9 325.0 1216.8 325.2 1220.8 325.4 1224.7 325.5 1228.7 325.7 1232.6 325.8 1236.6 326.0 1240.6 326.1 1244.5 326.2 1248.5 326.3 1252.4 326.3 1256.4 326.2 1260.3 326.1 1264.3 326.1 1268.2 326.0 1272.2 326.0 1276.2 326.0 1280.1 326.0 1284.1 326.0 1288.1 325.9 1292.0 325.9 1296.0 325.8 1299.9 325.8 1303.9 325.7 1307.9 325.7 1311.8 325.6 1315.8 325.5 1319.7 325.4 1323.7 325.3 1327.7 325.2 1331.6 325.1 1335.6 325.0 1339.5 324.9 1343.5 324.8 1347.5 324.7 1351.4 324.5 1355.4 324.4 1359.3 324.2 1363.3 324.0 1367.2 323.8 1371.2 323.6 1375.2 323.3 1379.1 323.1 1383.1 322.8 1387.0 322.5 1391.0 322.2 1394.9 321.9 1398.9 321.6 1402.8 321.3 1406.8 320.9 1410.7 320.6 1414.6 320.3 1418.6 320.0 1422.5 319.7 1426.5 319.4 1430.5 319.2 1434.4 318.9 1438.4 318.6 1442.3 318.2 1446.2 317.7 1450.1 316.9 1453.9 316.0 1457.6 314.8 1461.2 313.3 1464.7 311.7 1468.1 309.9 1471.4 307.9 1474.6 305.6 1477.7 303.2 1480.7 300.6 1483.6 297.9 1486.5 295.2 1489.3 292.4 1492.0 289.5 1494.7 286.6 1497.3 283.6 1500.0 280.7 1502.7 277.9 1505.5 275.0 1508.3 272.2 1511.3 269.8 1514.6 267.9 1518.2 267.0 1521.8 266.4 1525.4 266.2 1529.2 266.3 1532.9 266.6 1536.7 267.1 1540.5 267.9 1544.3 269.1 1548.0 270.5 1551.6 272.1 1555.2 273.8 1558.8 275.4 1562.4 277.0 1566.0 278.5 1569.8 279.7 1573.5 281.0 1577.3 282.2 1581.1 283.4 1584.9 284.6 1588.7 285.7 1592.4 287.0 1596.2 288.2 1600.1 289.0 1603.9 289.7 1607.8 290.4 1611.7 291.0 1615.6 291.6 1619.6 292.2 1623.5 292.7 1627.4 293.2 1631.3 293.7 1635.2 294.1 1639.2 294.5 1643.1 294.8 1647.1 295.0 1651.0 295.1 1655.0 295.2 1659.0 295.2 1662.9 295.1 1666.9 294.9 1670.8 294.8 1674.8 294.5 1678.7 294.3 1682.7 293.9 1686.6 293.6 1690.6 293.2 1694.5 292.9 1698.5 292.4 1702.4 292.0 1706.3 291.5 1710.3 291.0 1714.2 290.4 1718.1 289.8 1722.0 289.2 1725.9 288.5 1729.8 287.9 1733.7 287.2 1737.6 286.6 1741.5 285.9 1745.4 285.2 1749.3 284.6 1753.2 283.8 1757.1 283.1 1761.0 282.4 1764.9 281.6 1768.8 280.9 1772.7 280.1 1776.6 279.3 1780.5 278.6 1784.4 277.9 1788.3 277.2 1792.2 276.5 1796.0 275.7 1799.9 275.0 1803.9 274.4 1807.8 274.0 1811.7 273.7 1815.7 273.6 1819.6 273.7 1823.5 273.8 1827.5 273.9 1831.4 274.2 1835.3 274.5 1839.3 274.7 1843.2 275.0 1847.2 275.2 1851.2 275.2 1855.1 275.1 1859.0 274.9 1863.0 274.7 1866.9 274.5 1870.9 274.2 1874.8 274.0 1878.8 273.7 1882.7 273.3 1886.6 272.8 1890.5 272.1 1894.3 271.1 1898.1 270.0 1901.8 268.7 1905.5 267.3 1909.2 265.7 1912.7 264.1 1916.3 262.3 1919.8 260.5 1923.1 258.4 1926.4 256.2 1929.5 253.9 1932.7 251.6 1936.0 249.5 1939.4 247.4 1942.7 245.2 1946.0 243.1 1949.3 241.0 1952.8 239.0 1956.3 237.2 1959.9 235.6 1963.7 234.5 1967.6 233.8 1971.5 233.4 1975.5 233.2 1979.4 233.1 1983.3 233.2 1987.3 233.3 1991.2 233.5 1995.2 233.7 1999.1 233.8 2003.1 233.9 2007.0 234.1 2011.0 234.3 2014.9 234.6 2018.9 234.8 2022.8 234.9 2022.9 236.5 2022.9 238.0 2023.0 239.6 2023.1 241.2 2023.1 242.7 2023.2 244.3 2023.2 245.9 2023.3 247.4 2023.3 249.0 2023.3 250.6 2023.3 252.1 2023.2 253.7 2023.1 255.2 2022.9 256.8 2022.7 258.3 2022.4 259.9 2022.0 261.3 2021.6 262.8 2021.1 264.3 2020.5 265.7 2019.9 267.1 2019.3 268.5 2018.6 269.8 2018.0 271.2 2017.2 272.6 2016.5 273.9 2015.6 275.2 2014.7 276.5 2013.7 277.7 2012.7 278.9 2011.8 280.2 2010.8 281.4 2009.9 282.7 2008.9 283.9 2007.9 285.1 2006.9 286.3 2005.9 287.5 2004.9 288.7 2003.9 289.9 2002.8 291.1 2001.8 292.2 2000.7 293.4 1999.6 294.5 1998.5 295.6 1997.4 296.7 1996.3 297.8 1995.1 298.9 1994.0 299.9 1992.8 300.9 1991.6 301.9 1990.4 302.9 1989.1 303.9 1987.9 304.9 1986.7 305.8 1985.4 306.7 1984.2 307.7 1982.9 308.6 1981.6 309.5 1980.3 310.4 1979.1 311.3 1977.8 312.2 1976.5 313.1 1975.2 314.0 1973.9 314.9 1972.6 315.7 1971.3 316.6 1970.0 317.5 1968.7 318.4 1967.4 319.3 1966.2 320.2 1964.9 321.2 1963.7 322.2 1962.5 323.1 1961.3 324.1 1960.1 325.2 1958.9 326.2 1957.7 327.2 1956.6 328.3 1955.4 329.3 1954.3 330.4 1953.1 331.5 1952.0 332.6 1950.9 333.6 1949.7 334.7 1948.6 335.8 1947.5 336.9 1946.4 338.0 1945.2 339.1 1944.1 340.2 1943.0 341.3 1941.9 342.4 1940.8 343.6 1939.7 344.7 1938.7 345.8 1937.6 346.9 1936.5 348.1 1935.4 349.2 1934.3 350.3 1933.2 351.5 1932.1 352.6 1931.0 353.7 1929.9 354.8 1928.8 355.9 1927.7 357.0 1926.6 358.2 1925.5 359.3 1924.4 360.4 1923.3 361.5 1922.3 362.6 1921.2 363.8 1920.1 364.9 1918.9 366.0 1917.8 367.1 1916.7 368.1 1915.5 369.2 1914.3 370.2 1913.1 371.2 1911.9 372.2 1910.6 373.1 1909.3 374.0 1908.0 374.8 1906.7 375.7 1905.4 376.4 1904.0 377.2 1902.6 377.9 1901.2 378.5 1899.7 379.1 1898.3 379.6 1896.8 380.0 1895.2 380.4 1893.7 380.6 1892.1 380.7 1890.6 380.7 1889.0 380.5 1887.5 380.3 1885.9 380.0 1884.4 379.6 1882.9 379.3 1881.4 378.9 1879.8 378.6 1878.3 378.3 1876.8 378.0 1875.2 377.8 1873.7 377.6 1872.1 377.4 1870.6 377.1 1869.0 376.9 1867.5 376.7 1865.9 376.4 1864.4 376.2 1862.8 376.0 1861.3 375.8 1859.7 375.5 1858.3 375.0 1856.7 374.7 1855.2 374.5 1853.6 374.3 1852.1 374.2 1850.5 374.0 1849.0 373.9 1847.4 373.8 1845.8 373.6 1844.3 373.5 1842.7 373.5 1841.1 373.4 1839.6 373.3 1838.0 373.2 1836.4 373.1 1834.9 373.1 1833.3 373.0 1831.7 372.9 1830.2 372.9 1828.6 372.8 1827.1 372.8 1825.5 372.7 1823.9 372.7 1822.4 372.6 1820.8 372.6 1819.2 372.5 1817.7 372.5 1816.1 372.5 1814.5 372.5 1813.0 372.5 1811.4 372.5 1809.8 372.5 1808.3 372.5 1806.7 372.6 1805.1 372.6 1803.6 372.7 1802.0 372.7 1800.4 372.8 1798.9 372.9 1797.3 373.0 1795.7 373.1 1794.2 373.2 1792.6 373.3 1791.1 373.4 1789.5 373.5 1787.9 373.6" stroke="#ff00ff"/>
<path d="M1786.0 366.7 1782.5 366.9 1779.1 367.2 1775.6 367.4 1772.2 367.6 1768.7 367.8 1765.2 368.0 1761.8 368.2 1758.3 368.5 1754.9 368.7 1751.4 368.9 1747.9 369.1 1744.5 369.3 1741.0 369.5 1737.5 369.7 1734.1 370.0 1730.6 370.2 1727.2 370.4 1723.7 370.6 1720.2 370.8 1716.8 371.0 1713.3 371.2 1709.9 371.4 1706.4 371.6 1702.9 371.8 1699.5 372.0 1696.0 372.2 1692.5 372.4 1689.1 372.6 1685.6 372.9 1682.2 373.1 1678.7 373.3 1675.2 373.5 1671.8 373.7 1668.3 373.9 1664.8 374.1 1661.4 374.3 1657.9 374.5 1654.5 374.6 1651.0 374.8 1647.5 375.0 1644.1 375.2 1640.6 375.4 1637.1 375.6 1633.7 375.8 1630.2 376.0 1626.8 376.2 1623.3 376.3 1619.8 376.5 1616.4 376.7 1612.9 376.9 1609.4 377.0 1606.0 377.2 1602.5 377.4 1599.0 377.5 1595.6 377.7 1592.1 377.8 1588.6 378.0 1585.2 378.2 1581.7 378.3 1578.3 378.5 1574.8 378.6 1571.3 378.8 1567.9 378.9 1564.4 379.1 1560.9 379.2 1557.5 379.4 1554.0 379.5 1550.5 379.7 1547.1 379.9 1543.6 380.0 1540.1 380.2 1536.7 380.3 1533.2 380.5 1529.7 380.6 1526.3 380.8 1522.8 380.9 1519.4 381.1 1515.9 381.2 1512.4 381.4 1509.0 381.5 1505.5 381.7 1502.0 381.8 1498.6 382.0 1495.1 382.2 1491.6 382.3 1488.2 382.5 1484.7 382.6 1481.2 382.8 1477.8 383.0 1474.3 383.1 1470.9 383.3 1467.4 383.4 1463.9 383.6 1460.5 383.8 1457.0 383.9 1453.5 384.1 1450.1 384.3 1446.6 384.4 1443.1 384.6 1439.7 384.7 1436.2 384.9 1432.7 385.1 1429.3 385.2 1425.8 385.4 1422.4 385.5 1418.9 385.7 1415.4 385.8 1412.0 386.0 1408.5 386.1 1405.0 386.3 1401.6 386.4 1398.1 386.6 1394.6 386.7 1391.2 386.8 1387.7 387.0 1384.2 387.1 1380.8 387.2 1377.3 387.3 1373.8 387.5 1370.4 387.6 1366.9 387.7 1363.4 387.9 1360.0 388.0 1356.5 388.1 1353.0 388.3 1349.6 388.4 1346.1 388.6 1342.7 388.8 1339.2 388.9 1335.7 389.1 1332.3 389.3 1328.8 389.5 1325.3 389.7 1321.9 389.9 1318.4 390.1 1314.9 390.3 1311.5 390.5 1308.0 390.8 1304.6 391.0 1301.1 391.3 1297.7 391.5 1294.2 391.8 1290.7 392.1 1287.3 392.4 1283.8 392.6 1280.4 393.0 1276.9 393.3 1273.5 393.6 1270.0 393.9 1266.6 394.3 1263.1 394.7 1259.7 395.0 1256.2 395.4 1252.8 395.9 1249.4 396.5 1246.0 397.3 1242.7 398.2 1239.5 399.3 1236.4 400.6 1233.3 402.1 1230.4 403.7 1227.5 405.4 1224.7 407.3 1222.1 409.5 1219.4 411.7 1216.9 413.9 1214.5 416.3 1212.3 418.9 1210.4 421.7 1208.7 424.7 1207.3 427.9 1206.1 431.1 1204.8 434.3 1203.5 437.5 1202.3 440.7 1201.1 444.0 1200.0 447.2 1198.8 450.5 1197.7 453.8 1196.6 457.0 1195.6 460.3 1194.6 463.7 1193.6 467.0 1192.7 470.3 1191.8 473.7 1191.0 477.1 1190.1 480.4 1189.2 483.8 1188.4 487.1 1187.5 490.5 1186.7 493.9 1185.9 497.2 1185.0 500.6 1184.1 503.9 1183.2 507.3 1182.4 510.6 1181.4 514.0 1180.5 517.3 1179.5 520.7 1178.5 524.0 1177.4 527.2 1176.2 530.5 1174.9 533.7 1173.6 536.9 1172.2 540.1 1170.7 543.2 1169.1 546.2 1167.3 549.2 1165.4 552.0 1163.3 554.7 1161.0 557.2 1158.6 559.4 1155.9 561.2 1153.1 561.8 1150.6 561.6 1148.1 561.1 1145.6 560.5 1143.0 559.4 1140.3 557.7 1137.8 555.3 1135.6 552.6 1133.4 549.9 1131.4 547.1 1129.4 544.3 1127.4 541.4 1125.4 538.6 1123.3 535.8 1121.2 533.1 1118.9 530.4 1116.7 527.8 1114.3 525.3 1111.9 522.8 1109.5 520.3 1107.0 517.9 1104.4 515.6 1101.8 513.4 1099.1 511.2 1096.4 509.1 1093.6 507.0 1090.8 505.1 1087.9 503.2 1084.9 501.3 1082.0 499.6 1078.9 497.9 1075.9 496.3 1072.8 494.7 1069.6 493.2 1066.5 491.8 1063.3 490.5 1060.0 489.3 1056.8 488.0 1053.5 486.9 1050.3 485.7 1047.0 484.6 1043.7 483.5 1040.4 482.5 1037.1 481.5 1033.7 480.7 1030.3 480.1 1026.9 479.5 1023.4 479.0 1020.0 478.6 1016.6 478.2 1013.1 477.9 1009.6 477.6 1006.2 477.5 1002.7 477.4 999.2 477.4 995.8 477.5 992.3 477.8 988.9 478.3 985.5 478.9 982.2 479.7 978.9 480.7 975.6 481.9 972.5 483.3 969.4 484.9 966.4 486.6 963.4 488.3 960.4 490.0 957.4 491.6 954.4 493.3 951.3 494.9 948.3 496.6 945.2 498.2 942.1 499.8 939.1 501.5 936.1 503.3 933.2 505.1 930.3 507.0 927.4 508.9 924.5 510.8 921.6 512.7 918.8 514.6 915.9 516.5 913.0 518.4 910.1 520.3 907.2 522.1 904.2 523.9 901.3 525.8 898.4 527.6 895.5 529.5 892.6 531.4 889.7 533.3 886.9 535.3 884.1 537.4 881.5 539.5 878.9 541.7 876.4 543.9 874.1 546.4 872.0 549.1 870.0 551.9 868.2 554.9 866.7 558.0 865.1 561.1 863.5 564.2 862.0 567.3 860.6 570.5 859.1 573.6 857.7 576.8 856.4 580.0 855.1 583.2 853.8 586.4 852.6 589.7 851.5 593.0 850.5 596.3 849.6 599.6 848.7 603.0 848.0 606.4 847.2 609.8 846.6 613.2 845.9 616.6 845.3 620.0 844.6 623.4 844.0 626.8 843.4 630.2 842.7 633.6 842.1 637.0 841.5 640.4 840.9 643.9 840.3 647.3 839.8 650.7 839.2 654.1 838.6 657.5 838.1 661.0 837.5 664.4 837.0 667.8 836.4 671.2 835.9 674.7 835.4 678.1 834.8 681.5 834.3 684.9 833.8 688.4 833.3 691.8 832.8 695.2 832.3 698.7 831.8 702.1 831.3 705.5 830.9 709.0 830.4 712.4 829.9 715.8 829.5 719.3 829.1 722.7 828.6 726.2 828.2 729.6 827.8 733.1 827.4 736.5 827.0 739.9 826.6 743.4 826.2 746.8 825.9 750.3 825.5 753.7 825.1 757.2 824.8 760.6 824.4 764.1 824.0 767.5 823.7 771.0 823.3 774.4 823.0 777.9 822.6 781.3 822.3 784.8 821.9 788.2 821.6 791.7 821.2 795.1 820.9 798.6 820.5 802.0 820.2 805.5 819.8 808.9 819.5 812.4 819.1 815.8 818.8 819.3 818.4 822.7 818.1 826.2 817.8 829.6 817.4 833.1 817.1 836.5 816.8 840.0 818.0 840.0 817.7 844.0 817.2 849.2 816.7 855.4 816.1 862.3 815.5 869.7 814.8 877.4 814.1 885.1 813.5 892.6 812.8 899.6 812.2 906.0 811.6 911.9 811.0 917.6 810.5 923.3 809.9 928.8 809.3 934.1 808.8 939.4 808.2 944.5 807.6 949.4 806.9 954.3 806.3 959.0 805.6 963.6 804.9 968.1 804.2 972.6 803.5 976.8 802.7 981.0 802.0 985.0 801.2 988.8 800.5 992.4 799.7 995.8 799.0 999.0 798.3 1001.9 797.5 1004.6 796.8 1007.1 796.1 1009.4 795.3 1011.5 794.6 1013.4 793.8 1015.3 793.1 1016.9 792.4 1018.5 791.7 1020.0 791.0 1021.4 790.3 1022.5 789.6 1023.5 788.2 1025.1 786.9 1026.4 785.6 1027.5 784.4 1028.6 783.6 1029.7 782.8 1030.8 781.2 1031.3 779.7 1030.7 778.7 1030.0 777.7 1029.0 776.6 1027.7 775.3 1026.3 774.1 1024.8 772.7 1023.1 771.3 1021.4 769.7 1019.7 768.2 1017.9 766.5 1016.2 764.7 1014.5 762.9 1012.7 760.9 1010.8 758.8 1008.9 756.7 1007.0 754.5 1005.0 752.3 1003.1 750.1 1001.1 748.0 999.2 745.8 997.4 743.6 995.6 741.4 993.7 739.1 991.8 736.9 989.9 734.6 988.1 732.3 986.3 730.1 984.5 727.9 982.9 725.8 981.4 723.7 980.0 721.7 978.7 719.8 977.5 718.0 976.3 716.2 975.2 714.4 974.1 712.7 973.3 710.9 972.5 709.2 972.0 707.4 971.6 705.6 971.5 703.7 971.6 701.8 971.9 699.8 972.4 697.7 973.0 695.8 973.9 693.8 974.8 691.9 975.9 690.2 977.1 688.6 978.4 687.2 979.8 686.0 981.4 685.0 983.1 684.2 985.1 683.4 987.2 682.8 989.3 682.2 991.6 681.6 993.8 681.0 996.0 680.3 998.0 679.5 1000.0 678.7 1001.8 677.8 1003.6 676.9 1005.4 676.0 1007.1 675.1 1008.8 674.2 1010.5 673.3 1012.2 672.3 1013.9 671.3 1015.6 670.3 1017.3 669.2 1019.1 668.1 1020.9 667.0 1022.7 665.9 1024.5 664.7 1026.3 663.5 1028.1 662.3 1029.8 661.1 1031.5 660.0 1033.1 658.8 1034.6 657.7 1036.0 656.6 1037.4 655.5 1038.7 654.5 1039.9 653.4 1041.1 652.3 1042.2 651.2 1043.3 650.0 1044.3 648.7 1045.2 647.3 1046.1 645.8 1046.9 644.1 1047.7 642.4 1048.3 640.6 1048.9 638.7 1049.5 636.9 1050.0 635.1 1050.5 633.3 1050.9 631.6 1051.4 630.0 1051.8 628.5 1052.2 627.0 1052.5 625.6 1052.8 624.2 1053.0 622.9 1053.3 621.6 1053.5 620.3 1053.7 619.1 1053.9 616.9 1054.5 614.8 1055.2 612.8 1056.1 611.1 1056.9 609.7 1057.7 608.7 1055.6 608.8 1052.2 608.9 1048.1 609.1 1043.5 609.2 1038.6 609.4 1033.6 609.6 1028.6 609.9 1023.9 610.1 1019.6 610.4 1015.8 610.7 1012.5 611.0 1009.5 611.3 1006.6 611.7 1004.0 612.0 1001.5 612.4 999.1 612.9 996.7 613.4 994.5 613.9 992.2 614.5 990.0 615.2 987.9 615.9 986.0 616.7 984.3 617.5 982.6 618.4 981.0 619.3 979.3 620.3 977.5 621.2 975.5 622.2 973.2 623.1 970.6 624.0 967.6 625.0 964.3 626.0 960.8 627.0 957.1 628.0 953.2 629.0 949.3 630.0 945.3 631.1 941.4 632.1 937.5 633.2 933.7 634.3 930.0 635.4 926.3 636.5 922.7 637.6 919.0 638.8 915.3 639.9 911.6 641.0 907.9 642.2 904.3 643.2 900.6 644.3 896.9 645.3 893.2 646.4 889.4 647.4 885.6 648.4 881.8 649.3 878.0 650.3 874.3 651.3 870.6 652.2 867.0 653.1 863.4 654.0 860.0 654.9 856.7 655.7 853.6 656.5 850.7 657.3 847.8 658.0 844.9 658.8 842.0 659.6 839.1 660.4 836.2 661.2 833.1 662.1 829.8 663.0 826.4 664.0 822.8 665.0 819.2 666.0 815.5 667.1 811.8 668.1 808.0 669.1 804.2 670.2 800.4 671.2 796.6 672.2 792.9 673.2 789.2 674.2 785.5 675.1 781.9 676.1 778.2 677.0 774.5 678.0 770.8 678.9 767.1 679.9 763.5 680.9 759.8 681.9 756.1 683.0 752.2 684.1 748.1 685.3 743.9 686.6 739.6 687.8 735.4 689.0 731.3 690.1 727.6 691.0 724.2 691.9 721.4 689.8 719.2 691.0 715.4 692.2 711.6 693.3 707.8 694.5 704.1 695.7 700.3 696.9 696.5 698.0 692.7 699.2 688.9 700.5 685.2 701.7 681.4 703.0 677.6 704.2 673.9 705.6 670.2 706.9 666.5 708.3 662.7 709.7 659.0 711.2 655.3 712.7 651.7 714.2 648.0 715.9 644.4 717.6 640.8 719.4 637.3 721.2 633.8 723.2 630.3 725.3 626.9 727.4 623.6 729.6 620.3 731.8 617.0 734.1 613.7 736.3 610.5 738.5 607.2 740.7 603.9 742.9 600.5 744.9 597.1 746.9 593.7 748.9 590.2 750.8 586.8 752.7 583.3 754.6 579.8 756.4 576.2 758.1 572.7 759.8 569.1 761.4 565.5 763.1 561.8 764.6 558.2 766.2 554.5 767.7 550.8 769.1 547.2 770.6 543.5 772.0 539.8 773.5 536.1 774.9 532.4 776.4 528.7 777.9 525.0 779.5 521.4 781.1 517.7 782.7 514.1 784.3 510.5 786.0 506.9 787.6 503.3 789.3 499.7 791.0 496.1 792.7 492.5 794.4 488.9 796.2 485.3 797.9 481.8 799.6 478.2 801.4 474.7 803.2 471.1 805.0 467.6 806.8 464.1 808.7 460.6 810.7 457.1 812.7 453.7 814.8 450.4 817.0 447.0 819.2 443.7 821.4 440.4 823.6 437.1 825.9 433.9 828.2 430.7 830.5 427.4 832.7 424.1 834.9 420.8 837.1 417.6 839.4 414.3 841.7 411.0 844.0 407.8 846.5 404.7 849.0 401.6 851.6 398.7 854.4 395.8 857.2 393.0 860.1 390.3 863.1 387.8 866.2 385.3 869.4 383.0 872.7 380.8 876.1 378.7 879.6 376.8 883.1 375.0 886.7 373.3 890.4 371.7 894.1 370.2 897.8 368.8 901.5 367.4 905.2 366.1 909.0 364.8 912.8 363.6 916.6 362.4 920.4 361.4 924.2 360.3 928.1 359.3 931.9 358.4 935.8 357.4 939.7 356.6 943.6 355.9 947.5 355.2 951.4 354.5 955.3 353.8 959.2 353.1 963.1 352.3 967.0 351.6 970.9 350.8 974.8 350.1 978.7 349.3 982.6 348.6 986.5 347.9 990.4 347.2 994.3 346.5 998.2 345.8 1002.1 345.1 1006.1 344.4 1010.0 343.8 1013.9 343.2 1017.8 342.6 1021.8 342.0 1025.7 341.5 1029.6 341.0 1033.6 340.5 1037.5 340.0 1041.4 339.5 1045.4 339.0 1049.3 338.5 1053.3 338.0 1057.2 337.5 1061.1 337.0 1065.1 336.5 1069.0 335.9 1072.9 335.3 1076.9 334.8 1080.8 334.2 1084.7 333.6 1088.6 332.9 1092.5 332.3 1096.5 331.7 1100.4 331.0 1104.3 330.4 1108.2 329.7 1112.1 329.0 1116.0 328.4 1119.9 327.7 1123.8 327.0 1127.7 326.2 1131.6 325.5 1135.5 324.8 1139.4 324.0 1143.3 323.2 1147.2 322.5 1151.1 321.8 1155.0 321.1 1158.8 320.5 1162.7 319.9 1166.6 319.5 1170.5 319.2 1174.4 319.0 1178.4 319.0 1182.4 319.1 1186.3 319.3 1190.3 319.6 1194.3 319.8 1198.2 320.0 1202.2 320.2 1206.1 320.5 1210.1 320.8 1214.1 321.0 1218.0 321.3 1222.0 321.5 1225.9 321.7 1229.9 321.9 1233.9 322.1 1237.8 322.3 1241.8 322.5 1245.7 322.7 1249.7 322.8 1253.7 322.7 1257.6 322.7 1261.6 322.8 1265.6 322.8 1269.5 322.8 1273.5 322.9 1277.5 322.9 1281.5 322.9 1285.4 322.9 1289.4 322.8 1293.4 322.8 1297.3 322.7 1301.3 322.7 1305.3 322.6 1309.3 322.5 1313.2 322.5 1317.2 322.4 1321.2 322.3 1325.1 322.2 1329.1 322.1 1333.1 321.9 1337.0 321.8 1341.0 321.7 1345.0 321.5 1348.9 321.3 1352.9 321.2 1356.9 321.0 1360.8 320.7 1364.8 320.5 1368.8 320.2 1372.7 320.0 1376.7 319.7 1380.6 319.4 1384.6 319.1 1388.6 318.8 1392.5 318.4 1396.5 318.1 1400.4 317.8 1404.4 317.5 1408.4 317.1 1412.3 316.8 1416.3 316.5 1420.2 316.3 1424.2 316.0 1428.2 315.8 1432.1 315.6 1436.1 315.3 1440.0 315.0 1444.0 314.6 1447.9 314.0 1451.7 313.2 1455.5 312.2 1459.3 311.1 1462.9 309.8 1466.5 308.3 1470.0 306.6 1473.3 304.5 1476.5 302.2 1479.6 299.7 1482.5 297.1 1485.4 294.3 1488.1 291.5 1490.8 288.6 1493.5 285.6 1496.2 282.7 1498.9 279.8 1501.6 276.9 1504.3 273.9 1507.0 271.1 1509.9 268.4 1512.9 266.2 1516.2 264.7 1519.7 263.5 1523.3 262.7 1526.9 262.1 1530.7 262.0 1534.5 262.1 1538.4 262.6 1542.2 263.6 1545.9 265.0 1549.6 266.6 1553.2 268.2 1556.8 269.8 1560.3 271.7 1563.9 273.2 1567.7 274.6 1571.4 275.9 1575.2 277.2 1578.9 278.4 1582.7 279.6 1586.5 280.8 1590.3 282.1 1594.1 283.2 1597.9 284.1 1601.8 285.0 1605.7 285.7 1609.6 286.5 1613.5 287.2 1617.4 287.9 1621.3 288.6 1625.2 289.2 1629.1 289.7 1633.0 290.3 1637.0 290.7 1640.9 291.1 1644.9 291.4 1648.8 291.6 1652.8 291.7 1656.8 291.7 1660.7 291.6 1664.7 291.5 1668.7 291.4 1672.6 291.2 1676.6 290.9 1680.6 290.6 1684.5 290.3 1688.5 290.0 1692.4 289.6 1696.4 289.2 1700.3 288.7 1704.3 288.2 1708.2 287.7 1712.1 287.1 1716.1 286.5 1720.0 285.9 1723.9 285.2 1727.8 284.6 1731.7 283.9 1735.6 283.2 1739.6 282.6 1743.5 281.9 1747.4 281.2 1751.3 280.4 1755.2 279.7 1759.1 278.9 1763.0 278.1 1766.9 277.4 1770.8 276.6 1774.6 275.8 1778.5 275.1 1782.4 274.3 1786.4 273.6 1790.3 272.9 1794.1 272.1 1798.0 271.3 1802.0 270.7 1805.9 270.1 1809.8 269.7 1813.7 269.4 1817.7 269.3 1821.6 269.2 1825.6 269.2 1829.5 269.3 1833.5 269.5 1837.4 269.7 1841.4 269.9 1845.4 270.1 1849.3 270.2 1853.3 270.1 1857.3 270.1 1861.2 270.0 1865.2 269.9 1869.1 269.7 1873.1 269.6 1877.0 269.5 1881.0 269.2 1884.9 268.8 1888.8 268.2 1892.7 267.4 1896.5 266.4 1900.3 265.2 1904.1 263.9 1907.8 262.5 1911.4 260.9 1915.0 259.3 1918.6 257.6 1922.0 255.7 1925.4 253.6 1928.7 251.5 1932.0 249.4 1935.4 247.3 1938.8 245.3 1942.2 243.3 1945.6 241.3 1949.0 239.3 1952.5 237.4 1956.0 235.6 1959.7 234.1 1963.5 232.9 1967.4 232.1 1971.3 231.6 1975.2 231.3 1979.2 231.0 1983.1 230.9 1987.1 230.8 1991.0 230.8 1995.0 230.9 1998.9 230.9 2002.9 230.9 2006.9 231.0 2010.8 231.2 2014.8 231.3 2018.7 231.5 2022.7 231.6 2022.7 233.2 2022.8 234.8 2022.9 236.3 2022.9 237.9 2023.0 239.5 2023.0 241.1 2023.1 242.7 2023.1 244.2 2023.2 245.8 2023.2 247.4 2023.2 249.0 2023.1 250.6 2023.1 252.2 2023.0 253.7 2022.8 255.3 2022.6 256.8 2022.3 258.4 2022.0 259.9 2021.6 261.4 2021.2 262.9 2020.8 264.3 2020.3 265.8 2019.8 267.2 2019.2 268.7 2018.6 270.1 2017.9 271.5 2017.0 272.8 2016.1 274.1 2015.1 275.4 2014.2 276.6 2013.2 277.9 2012.2 279.1 2011.3 280.4 2010.3 281.6 2009.3 282.9 2008.3 284.1 2007.3 285.3 2006.3 286.5 2005.3 287.8 2004.3 289.0 2003.2 290.1 2002.2 291.3 2001.1 292.5 2000.0 293.6 1998.9 294.7 1997.8 295.9 1996.7 297.0 1995.5 298.0 1994.3 299.1 1993.1 300.1 1991.9 301.2 1990.7 302.2 1989.5 303.1 1988.2 304.1 1987.0 305.1 1985.7 306.0 1984.4 307.0 1983.1 307.9 1981.9 308.8 1980.6 309.7 1979.3 310.6 1978.0 311.5 1976.7 312.4 1975.4 313.3 1974.1 314.2 1972.7 315.1 1971.4 316.0 1970.1 316.9 1968.8 317.8 1967.6 318.7 1966.3 319.7 1965.0 320.6 1963.8 321.6 1962.5 322.6 1961.3 323.6 1960.1 324.6 1958.9 325.6 1957.7 326.7 1956.6 327.8 1955.4 328.8 1954.2 329.9 1953.1 331.0 1951.9 332.1 1950.8 333.1 1949.6 334.2 1948.5 335.3 1947.3 336.4 1946.2 337.5 1945.1 338.6 1944.0 339.8 1942.8 340.9 1941.7 342.0 1940.6 343.1 1939.5 344.3 1938.4 345.4 1937.3 346.5 1936.2 347.7 1935.1 348.8 1934.0 349.9 1932.9 351.1 1931.8 352.2 1930.7 353.3 1929.6 354.4 1928.4 355.6 1927.3 356.7 1926.2 357.8 1925.1 358.9 1924.0 360.1 1922.9 361.2 1921.8 362.3 1920.7 363.4 1919.5 364.6 1918.4 365.7 1917.2 366.7 1916.1 367.8 1914.9 368.8 1913.6 369.8 1912.4 370.8 1911.1 371.7 1909.8 372.6 1908.4 373.4 1907.0 374.1 1905.6 374.9 1904.2 375.5 1902.8 376.1 1901.3 376.7 1899.8 377.2 1898.3 377.6 1896.8 378.0 1895.2 378.3 1893.7 378.5 1892.1 378.6 1890.5 378.6 1888.9 378.5 1887.4 378.3 1885.8 378.1 1884.3 377.8 1882.7 377.5 1881.2 377.2 1879.6 376.9 1878.1 376.6 1876.5 376.4 1874.9 376.2 1873.4 376.0 1871.8 375.8 1870.2 375.6 1868.7 375.4 1867.1 375.2 1865.5 375.0 1864.0 374.8 1862.4 374.6 1860.8 374.4 1859.3 374.0 1857.9 373.5 1856.3 373.2 1854.7 373.0 1853.2 372.8 1851.6 372.7 1850.0 372.6 1848.4 372.4 1846.8 372.3 1845.3 372.2 1843.7 372.2 1842.1 372.1 1840.5 372.0 1838.9 371.9 1837.4 371.9 1835.8 371.8 1834.2 371.7 1832.6 371.7 1831.0 371.6 1829.5 371.6 1827.9 371.5 1826.3 371.5 1824.7 371.5 1823.1 371.4 1821.6 371.4 1820.0 371.4 1818.4 371.3 1816.8 371.3 1815.2 371.3 1813.6 371.3 1812.1 371.3 1810.5 371.4 1808.9 371.4 1807.3 371.4 1805.7 371.5 1804.2 371.6 1802.6 371.7 1801.0 371.8 1799.4 371.9 1797.8 372.0 1796.3 372.1 1794.7 372.2 1793.1 372.3 1791.5 372.5 1790.0 372.6 1788.4 372.7 1786.8 372.8" stroke="#008000"/>
<path d="M1785.1 367.5 1781.7 367.8 1778.2 368.0 1774.8 368.2 1771.3 368.5 1767.8 368.7 1764.4 368.9 1760.9 369.2 1757.5 369.4 1754.0 369.6 1750.6 369.8 1747.1 370.1 1743.7 370.3 1740.2 370.5 1736.7 370.7 1733.3 371.0 1729.8 371.2 1726.4 371.4 1722.9 371.6 1719.5 371.9 1716.0 372.1 1712.5 372.3 1709.1 372.5 1705.6 372.7 1702.2 373.0 1698.7 373.2 1695.3 373.4 1691.8 373.6 1688.3 373.8 1684.9 374.0 1681.4 374.2 1678.0 374.5 1674.5 374.7 1671.1 374.9 1667.6 375.1 1664.1 375.3 1660.7 375.5 1657.2 375.7 1653.8 375.9 1650.3 376.1 1646.8 376.3 1643.4 376.5 1639.9 376.7 1636.5 376.9 1633.0 377.1 1629.6 377.3 1626.1 377.5 1622.6 377.7 1619.2 377.8 1615.7 378.0 1612.3 378.2 1608.8 378.4 1605.3 378.6 1601.9 378.7 1598.4 378.9 1595.0 379.1 1591.5 379.3 1588.0 379.4 1584.6 379.6 1581.1 379.8 1577.7 379.9 1574.2 380.1 1570.7 380.3 1567.3 380.4 1563.8 380.6 1560.4 380.8 1556.9 380.9 1553.4 381.1 1550.0 381.3 1546.5 381.4 1543.1 381.6 1539.6 381.8 1536.1 381.9 1532.7 382.1 1529.2 382.3 1525.8 382.4 1522.3 382.6 1518.8 382.8 1515.4 382.9 1511.9 383.1 1508.5 383.3 1505.0 383.4 1501.5 383.6 1498.1 383.8 1494.6 383.9 1491.2 384.1 1487.7 384.3 1484.2 384.4 1480.8 384.6 1477.3 384.8 1473.9 385.0 1470.4 385.1 1467.0 385.3 1463.5 385.5 1460.0 385.7 1456.6 385.8 1453.1 386.0 1449.7 386.2 1446.2 386.4 1442.7 386.6 1439.3 386.7 1435.8 386.9 1432.4 387.1 1428.9 387.2 1425.4 387.4 1422.0 387.6 1418.5 387.8 1415.1 387.9 1411.6 388.1 1408.1 388.2 1404.7 388.4 1401.2 388.6 1397.8 388.7 1394.3 388.8 1390.8 389.0 1387.4 389.1 1383.9 389.3 1380.4 389.4 1377.0 389.5 1373.5 389.6 1370.1 389.8 1366.6 389.9 1363.1 390.0 1359.7 390.1 1356.2 390.3 1352.8 390.4 1349.3 390.5 1345.8 390.7 1342.4 390.9 1338.9 391.0 1335.5 391.2 1332.0 391.4 1328.5 391.6 1325.1 391.8 1321.6 392.0 1318.2 392.2 1314.7 392.4 1311.2 392.6 1307.8 392.8 1304.3 393.1 1300.9 393.3 1297.4 393.6 1294.0 393.8 1290.5 394.1 1287.1 394.4 1283.6 394.7 1280.2 395.0 1276.7 395.3 1273.3 395.7 1269.8 396.0 1266.4 396.4 1262.9 396.8 1259.5 397.2 1256.1 397.6 1252.6 398.0 1249.2 398.5 1245.8 399.2 1242.5 400.1 1239.2 401.1 1236.0 402.4 1233.0 403.9 1230.1 405.7 1227.2 407.5 1224.5 409.5 1221.8 411.6 1219.2 413.9 1216.7 416.2 1214.3 418.7 1212.0 421.2 1210.0 423.9 1208.2 426.9 1206.8 430.0 1205.5 433.2 1204.3 436.4 1203.2 439.7 1202.1 442.9 1200.9 446.2 1199.8 449.5 1198.7 452.7 1197.7 456.0 1196.6 459.3 1195.6 462.6 1194.6 465.9 1193.7 469.3 1192.8 472.6 1191.9 476.0 1191.0 479.3 1190.2 482.7 1189.3 486.0 1188.5 489.4 1187.7 492.8 1186.9 496.1 1186.0 499.5 1185.2 502.9 1184.3 506.2 1183.4 509.6 1182.5 512.9 1181.6 516.2 1180.7 519.6 1179.8 522.9 1178.7 526.2 1177.7 529.5 1176.5 532.8 1175.3 536.0 1174.0 539.2 1172.6 542.4 1171.1 545.5 1169.5 548.6 1167.8 551.5 1165.9 554.4 1163.8 557.2 1161.5 559.7 1159.1 562.0 1156.4 564.0 1153.4 565.5 1150.4 565.5 1147.7 564.6 1145.2 563.4 1142.7 562.0 1140.1 560.4 1137.6 558.3 1135.2 555.8 1133.0 553.2 1130.8 550.4 1128.8 547.6 1126.8 544.8 1124.8 542.0 1122.8 539.2 1120.7 536.4 1118.5 533.7 1116.3 531.1 1114.0 528.5 1111.6 526.0 1109.1 523.5 1106.6 521.1 1104.1 518.8 1101.5 516.6 1098.8 514.4 1096.1 512.3 1093.3 510.2 1090.4 508.3 1087.5 506.4 1084.6 504.6 1081.6 502.8 1078.6 501.1 1075.6 499.5 1072.5 497.9 1069.4 496.4 1066.2 494.9 1063.0 493.5 1059.8 492.2 1056.6 491.0 1053.3 489.8 1050.1 488.7 1046.8 487.6 1043.5 486.5 1040.2 485.4 1036.9 484.4 1033.5 483.6 1030.2 482.8 1026.7 482.2 1023.3 481.7 1019.9 481.2 1016.5 480.8 1013.0 480.5 1009.6 480.2 1006.1 479.9 1002.6 479.8 999.2 479.7 995.7 479.7 992.3 479.8 988.8 480.1 985.4 480.4 982.0 480.9 978.6 481.6 975.2 482.5 972.0 483.6 968.8 484.9 965.7 486.4 962.6 488.0 959.5 489.6 956.5 491.1 953.4 492.7 950.3 494.3 947.3 495.9 944.2 497.5 941.1 499.1 938.1 500.7 935.0 502.4 932.1 504.1 929.1 505.9 926.1 507.7 923.2 509.5 920.3 511.4 917.3 513.2 914.4 515.0 911.5 516.8 908.5 518.6 905.5 520.4 902.6 522.1 899.6 523.8 896.6 525.6 893.6 527.3 890.6 529.1 887.7 530.9 884.8 532.7 881.9 534.7 879.2 536.8 876.5 539.0 874.1 541.4 871.9 543.9 869.7 546.5 867.6 549.3 865.7 552.1 864.0 555.2 862.5 558.3 861.0 561.4 859.5 564.5 858.0 567.6 856.5 570.8 855.1 573.9 853.7 577.1 852.3 580.3 851.0 583.5 849.7 586.7 848.5 589.9 847.4 593.2 846.4 596.5 845.5 599.9 844.6 603.2 843.9 606.6 843.2 610.0 842.6 613.4 842.0 616.8 841.4 620.2 840.8 623.6 840.1 627.1 839.5 630.5 838.9 633.9 838.3 637.3 837.7 640.7 837.1 644.1 836.5 647.5 835.9 650.9 835.4 654.3 834.8 657.8 834.2 661.2 833.7 664.6 833.1 668.0 832.6 671.4 832.1 674.9 831.5 678.3 831.0 681.7 830.5 685.1 830.0 688.6 829.5 692.0 829.0 695.4 828.5 698.9 828.0 702.3 827.6 705.7 827.1 709.2 826.7 712.6 826.2 716.0 825.8 719.5 825.3 722.9 824.9 726.3 824.5 729.8 824.1 733.2 823.7 736.7 823.3 740.1 822.9 743.5 822.5 747.0 822.1 750.4 821.7 753.9 821.3 757.3 821.0 760.7 820.6 764.2 820.2 767.6 819.9 771.1 819.5 774.5 819.1 778.0 818.8 781.4 818.4 784.9 818.0 788.3 817.7 791.7 817.3 795.2 817.0 798.6 816.6 802.1 816.2 805.5 815.9 809.0 815.5 812.4 815.2 815.9 814.8 819.3 814.5 822.8 814.1 826.2 813.8 829.7 813.5 833.1 813.1 836.6 812.8 840.0 814.2 840.0 813.9 844.0 813.5 849.2 813.0 855.4 812.5 862.3 811.9 869.8 811.3 877.5 810.7 885.2 810.0 892.7 809.5 899.8 808.9 906.2 808.4 912.1 807.9 917.9 807.4 923.5 806.8 929.0 806.3 934.4 805.8 939.6 805.3 944.7 804.7 949.7 804.2 954.5 803.6 959.2 803.0 963.8 802.4 968.2 801.7 972.5 801.1 976.7 800.4 980.8 799.7 984.7 799.0 988.5 798.3 992.1 797.7 995.6 797.0 999.0 796.4 1002.2 795.7 1005.4 795.1 1008.4 794.5 1011.2 793.9 1013.9 793.3 1016.5 792.6 1019.0 791.9 1021.3 791.1 1023.4 790.3 1025.4 789.4 1027.3 788.5 1029.1 787.5 1030.8 786.5 1032.4 785.4 1033.8 784.3 1035.0 783.2 1036.0 782.0 1036.8 780.9 1037.2 778.5 1037.2 777.2 1036.7 775.9 1035.8 774.6 1034.7 773.3 1033.4 771.9 1031.9 770.5 1030.3 769.2 1028.7 767.8 1027.0 766.5 1025.4 765.2 1023.7 763.8 1021.9 762.5 1019.9 761.2 1017.8 759.9 1015.7 758.5 1013.5 757.2 1011.4 755.9 1009.4 754.5 1007.4 753.2 1005.6 751.9 1003.9 750.6 1002.4 749.3 1000.9 748.0 999.4 746.8 998.0 745.5 996.6 744.2 995.2 742.8 993.9 741.4 992.5 740.0 991.0 738.5 989.5 736.9 988.0 735.3 986.4 733.7 984.9 732.0 983.3 730.4 981.8 728.7 980.3 727.1 978.8 725.5 977.4 724.0 976.0 722.5 974.6 721.1 973.3 719.6 971.9 718.2 970.6 716.9 969.2 715.5 968.0 714.1 966.8 712.7 965.8 711.4 964.8 710.0 964.0 708.6 963.2 707.3 962.5 706.0 961.7 704.8 961.1 703.5 960.6 702.2 960.2 700.8 960.0 699.4 960.0 698.0 960.4 696.4 961.0 694.7 962.0 692.9 963.4 691.0 965.1 689.0 967.0 687.0 969.1 685.0 971.3 683.1 973.5 681.2 975.8 679.5 978.0 678.0 980.0 676.7 982.0 675.4 984.1 674.4 986.3 673.4 988.4 672.4 990.6 671.5 992.7 670.7 994.8 669.8 996.7 668.9 998.4 668.0 1000.0 667.1 1001.4 666.1 1002.5 665.3 1003.6 664.4 1004.5 663.5 1005.3 661.7 1006.9 659.8 1008.4 658.8 1009.2 657.8 1010.1 656.7 1011.0 655.7 1011.9 654.6 1012.8 653.6 1013.7 652.4 1014.5 651.2 1015.3 650.0 1016.1 648.7 1016.7 647.3 1017.3 645.8 1017.8 644.2 1018.2 642.5 1018.5 640.7 1018.7 638.9 1018.9 637.0 1019.1 635.2 1019.2 633.4 1019.4 631.7 1019.5 630.0 1019.6 628.4 1019.7 626.7 1019.8 625.1 1019.9 623.4 1019.9 621.8 1019.9 620.3 1020.0 618.8 1020.0 617.4 1020.0 616.1 1020.0 614.0 1020.0 612.3 1020.0 611.0 1020.0 609.5 1020.0 608.7 1018.2 608.9 1015.8 609.1 1012.9 609.4 1009.7 609.6 1006.2 609.9 1002.7 610.2 999.2 610.5 995.8 610.9 992.7 611.3 990.0 611.7 987.7 612.2 985.7 612.6 984.0 613.1 982.3 613.6 980.7 614.2 979.1 614.8 977.4 615.4 975.4 616.0 973.2 616.7 970.6 617.4 967.6 618.1 964.3 618.9 960.8 619.7 957.1 620.6 953.2 621.4 949.3 622.3 945.3 623.2 941.4 624.1 937.5 625.0 933.7 625.9 930.0 626.9 926.3 627.9 922.7 628.9 919.0 630.0 915.3 631.0 911.6 632.0 907.9 633.1 904.3 634.1 900.6 635.1 896.9 636.1 893.2 637.1 889.4 638.1 885.6 639.0 881.8 640.0 878.0 641.0 874.3 642.0 870.6 642.9 867.0 643.9 863.4 644.8 860.0 645.7 856.7 646.6 853.6 647.5 850.7 648.3 847.8 649.2 844.9 650.1 842.0 650.9 839.1 651.9 836.2 652.8 833.1 653.8 829.8 654.9 826.4 656.0 822.8 657.1 819.2 658.3 815.5 659.4 811.8 660.6 808.0 661.8 804.2 663.0 800.4 664.2 796.6 665.3 792.9 666.4 789.2 667.5 785.5 668.5 781.9 669.6 778.2 670.6 774.5 671.6 770.8 672.7 767.1 673.7 763.5 674.8 759.8 675.9 756.1 677.1 752.2 678.3 748.1 679.6 743.9 681.0 739.6 682.3 735.4 683.6 731.3 684.8 727.6 685.8 724.2 686.7 721.4 685.9 719.2 687.2 715.4 688.5 711.7 689.8 707.9 691.1 704.2 692.4 700.4 693.7 696.6 695.0 692.9 696.3 689.1 697.6 685.4 699.0 681.6 700.3 677.9 701.7 674.2 703.2 670.5 704.6 666.8 706.1 663.1 707.7 659.4 709.2 655.8 710.8 652.1 712.5 648.5 714.2 644.9 716.0 641.4 717.8 637.8 719.7 634.3 721.6 630.9 723.7 627.5 725.8 624.1 728.0 620.7 730.2 617.4 732.4 614.1 734.6 610.8 736.8 607.5 739.0 604.2 741.1 600.8 743.1 597.4 745.1 593.9 747.1 590.5 749.0 587.0 750.9 583.5 752.8 580.0 754.6 576.4 756.3 572.8 758.0 569.2 759.6 565.6 761.2 561.9 762.7 558.3 764.2 554.6 765.7 550.9 767.1 547.2 768.5 543.4 770.0 539.7 771.4 536.0 772.8 532.3 774.3 528.6 775.8 524.9 777.3 521.2 778.8 517.5 780.4 513.9 782.0 510.2 783.6 506.6 785.3 503.0 786.9 499.4 788.6 495.7 790.2 492.1 791.9 488.5 793.6 484.9 795.3 481.3 797.0 477.7 798.7 474.1 800.5 470.6 802.2 467.0 804.0 463.4 805.9 459.9 807.8 456.4 809.7 453.0 811.8 449.5 813.9 446.2 816.0 442.8 818.1 439.4 820.3 436.1 822.7 432.9 825.1 429.7 827.4 426.5 829.6 423.2 831.9 419.9 834.2 416.7 836.5 413.4 838.8 410.2 841.2 407.0 843.6 403.8 846.1 400.8 848.8 397.8 851.5 394.9 854.2 392.0 857.1 389.2 860.0 386.6 863.1 384.0 866.2 381.6 869.5 379.3 872.8 377.2 876.3 375.2 879.9 373.4 883.5 371.8 887.1 370.2 890.8 368.7 894.5 367.3 898.3 365.9 902.0 364.5 905.8 363.2 909.6 362.0 913.4 360.8 917.2 359.7 921.0 358.6 924.9 357.6 928.7 356.6 932.6 355.7 936.5 354.9 940.4 354.2 944.3 353.6 948.3 352.9 952.2 352.2 956.1 351.5 960.0 350.7 963.9 350.0 967.8 349.2 971.7 348.5 975.6 347.7 979.6 347.0 983.5 346.2 987.4 345.5 991.3 344.8 995.2 344.1 999.1 343.4 1003.1 342.7 1007.0 342.1 1010.9 341.5 1014.9 340.9 1018.8 340.4 1022.8 339.8 1026.7 339.3 1030.7 338.9 1034.6 338.4 1038.6 338.0 1042.5 337.5 1046.5 337.0 1050.4 336.5 1054.4 336.0 1058.3 335.5 1062.3 334.9 1066.2 334.3 1070.1 333.7 1074.1 333.1 1078.0 332.4 1081.9 331.7 1085.8 331.0 1089.7 330.3 1093.6 329.6 1097.6 328.9 1101.5 328.2 1105.4 327.4 1109.3 326.7 1113.2 325.9 1117.1 325.1 1121.0 324.4 1124.9 323.6 1128.8 322.8 1132.7 321.9 1136.6 321.0 1140.4 320.2 1144.3 319.3 1148.2 318.4 1152.0 317.6 1155.9 316.7 1159.7 315.8 1163.6 315.0 1167.5 314.5 1171.4 314.2 1175.4 314.1 1179.4 314.2 1183.4 314.5 1187.3 314.8 1191.3 315.0 1195.3 315.3 1199.2 315.7 1203.2 316.0 1207.2 316.4 1211.1 316.7 1215.1 317.0 1219.1 317.3 1223.0 317.6 1227.0 317.9 1231.0 318.2 1234.9 318.4 1238.9 318.7 1242.9 318.9 1246.9 319.1 1250.8 319.2 1254.8 319.2 1258.8 319.3 1262.8 319.4 1266.8 319.5 1270.7 319.6 1274.7 319.6 1278.7 319.6 1282.7 319.6 1286.7 319.6 1290.6 319.6 1294.6 319.5 1298.6 319.5 1302.6 319.4 1306.6 319.3 1310.5 319.3 1314.5 319.2 1318.5 319.0 1322.5 318.9 1326.5 318.8 1330.4 318.7 1334.4 318.5 1338.4 318.4 1342.4 318.2 1346.3 318.0 1350.3 317.8 1354.3 317.6 1358.3 317.3 1362.2 317.1 1366.2 316.8 1370.2 316.5 1374.1 316.1 1378.1 315.8 1382.1 315.5 1386.0 315.1 1390.0 314.8 1394.0 314.5 1397.9 314.1 1401.9 313.8 1405.9 313.5 1409.9 313.2 1413.8 313.0 1417.8 312.7 1421.8 312.5 1425.8 312.3 1429.7 312.1 1433.7 311.9 1437.7 311.6 1441.6 311.3 1445.6 310.8 1449.5 310.2 1453.4 309.5 1457.2 308.7 1461.0 307.8 1464.8 306.7 1468.4 305.2 1471.9 303.4 1475.2 301.3 1478.4 298.8 1481.3 296.2 1484.2 293.4 1487.0 290.5 1489.6 287.6 1492.3 284.6 1494.9 281.7 1497.7 278.8 1500.3 275.8 1503.0 272.8 1505.6 269.9 1508.3 267.0 1511.2 264.4 1514.2 262.2 1517.5 260.4 1521.0 258.9 1524.6 257.8 1528.4 257.1 1532.3 256.8 1536.2 257.0 1540.1 257.8 1543.8 259.2 1547.5 260.7 1551.1 262.4 1554.7 264.0 1558.1 266.1 1561.7 267.7 1565.4 269.1 1569.2 270.5 1572.9 271.9 1576.7 273.2 1580.4 274.4 1584.2 275.7 1588.0 276.9 1591.8 278.0 1595.7 279.0 1599.5 280.0 1603.4 280.9 1607.3 281.7 1611.2 282.6 1615.0 283.4 1618.9 284.2 1622.9 284.9 1626.8 285.6 1630.7 286.2 1634.6 286.8 1638.6 287.2 1642.5 287.6 1646.5 287.8 1650.5 288.0 1654.5 288.1 1658.5 288.0 1662.4 288.0 1666.4 287.8 1670.4 287.7 1674.4 287.4 1678.3 287.1 1682.3 286.8 1686.3 286.5 1690.2 286.2 1694.2 285.8 1698.2 285.3 1702.1 284.8 1706.0 284.3 1710.0 283.7 1713.9 283.1 1717.8 282.4 1721.8 281.8 1725.7 281.1 1729.6 280.4 1733.5 279.7 1737.5 279.0 1741.4 278.3 1745.3 277.6 1749.2 276.8 1753.1 276.1 1757.0 275.3 1760.9 274.5 1764.8 273.7 1768.7 272.9 1772.6 272.1 1776.5 271.3 1780.4 270.6 1784.3 269.8 1788.2 269.1 1792.1 268.3 1796.1 267.5 1800.0 266.7 1803.9 266.1 1807.8 265.5 1811.7 265.0 1815.7 264.6 1819.6 264.4 1823.6 264.2 1827.6 264.1 1831.5 264.2 1835.5 264.3 1839.5 264.5 1843.5 264.7 1847.4 264.8 1851.4 264.9 1855.4 265.0 1859.4 265.0 1863.3 265.0 1867.3 265.0 1871.3 265.0 1875.2 265.0 1879.2 264.9 1883.2 264.7 1887.1 264.2 1891.0 263.5 1894.9 262.6 1898.7 261.5 1902.5 260.4 1906.3 259.1 1910.0 257.7 1913.7 256.2 1917.3 254.6 1920.9 252.8 1924.3 250.9 1927.8 248.9 1931.2 247.0 1934.7 245.1 1938.2 243.2 1941.7 241.4 1945.2 239.5 1948.7 237.6 1952.2 235.7 1955.8 234.0 1959.5 232.5 1963.3 231.3 1967.2 230.4 1971.1 229.7 1975.0 229.2 1978.9 228.8 1982.9 228.5 1986.8 228.2 1990.8 228.1 1994.8 227.9 1998.7 227.8 2002.7 227.8 2006.7 227.8 2010.7 227.9 2014.7 228.0 2018.6 228.1 2022.6 228.1 2022.6 229.7 2022.7 231.3 2022.7 232.9 2022.8 234.5 2022.8 236.1 2022.9 237.7 2022.9 239.3 2023.0 240.9 2023.0 242.5 2023.0 244.1 2023.1 245.7 2023.1 247.3 2023.0 248.9 2023.0 250.5 2022.9 252.1 2022.8 253.7 2022.6 255.2 2022.5 256.8 2022.2 258.4 2022.0 259.9 2021.7 261.4 2021.4 263.0 2021.0 264.5 2020.5 266.0 2020.0 267.5 2019.3 268.9 2018.6 270.3 2017.6 271.6 2016.6 272.9 2015.6 274.1 2014.7 275.4 2013.7 276.7 2012.8 278.0 2011.8 279.2 2010.8 280.5 2009.9 281.8 2008.9 283.0 2007.8 284.3 2006.8 285.5 2005.8 286.7 2004.8 287.9 2003.7 289.1 2002.6 290.3 2001.6 291.5 2000.5 292.7 1999.4 293.8 1998.2 294.9 1997.1 296.1 1995.9 297.2 1994.8 298.2 1993.6 299.3 1992.3 300.3 1991.1 301.3 1989.8 302.3 1988.6 303.3 1987.3 304.3 1986.0 305.2 1984.7 306.2 1983.4 307.1 1982.1 308.0 1980.8 309.0 1979.5 309.9 1978.2 310.8 1976.9 311.7 1975.6 312.6 1974.3 313.5 1973.0 314.4 1971.6 315.3 1970.3 316.2 1969.0 317.1 1967.7 318.1 1966.4 319.0 1965.1 320.0 1963.9 320.9 1962.6 321.9 1961.4 322.9 1960.2 324.0 1959.0 325.0 1957.8 326.1 1956.6 327.2 1955.4 328.2 1954.2 329.3 1953.0 330.4 1951.9 331.5 1950.7 332.6 1949.5 333.7 1948.4 334.8 1947.2 335.9 1946.1 337.0 1944.9 338.1 1943.8 339.2 1942.7 340.4 1941.5 341.5 1940.4 342.6 1939.3 343.8 1938.2 344.9 1937.1 346.1 1935.9 347.2 1934.8 348.4 1933.7 349.5 1932.6 350.6 1931.4 351.8 1930.3 352.9 1929.2 354.0 1928.0 355.1 1926.9 356.2 1925.8 357.4 1924.6 358.5 1923.5 359.7 1922.4 360.8 1921.3 361.9 1920.1 363.1 1919.0 364.2 1917.8 365.3 1916.6 366.3 1915.4 367.4 1914.2 368.4 1912.9 369.3 1911.6 370.2 1910.2 371.1 1908.8 371.8 1907.4 372.6 1906.0 373.2 1904.5 373.8 1903.0 374.3 1901.5 374.8 1899.9 375.2 1898.4 375.6 1896.8 375.9 1895.2 376.2 1893.7 376.4 1892.1 376.5 1890.5 376.5 1888.9 376.4 1887.3 376.2 1885.7 376.1 1884.1 375.8 1882.6 375.6 1881.0 375.3 1879.4 375.1 1877.8 374.9 1876.2 374.8 1874.6 374.6 1873.1 374.4 1871.5 374.3 1869.9 374.1 1868.3 373.9 1866.7 373.7 1865.1 373.5 1863.5 373.3 1861.9 373.1 1860.4 372.9 1858.8 372.6 1857.4 371.9 1855.8 371.6 1854.2 371.4 1852.7 371.3 1851.1 371.1 1849.5 371.0 1847.9 370.9 1846.3 370.9 1844.7 370.8 1843.1 370.7 1841.5 370.6 1839.9 370.6 1838.3 370.5 1836.7 370.5 1835.1 370.4 1833.5 370.4 1831.9 370.3 1830.3 370.3 1828.7 370.2 1827.1 370.2 1825.5 370.2 1823.9 370.1 1822.3 370.1 1820.7 370.1 1819.1 370.1 1817.5 370.1 1815.9 370.1 1814.3 370.1 1812.7 370.1 1811.1 370.1 1809.5 370.2 1807.9 370.3 1806.3 370.3 1804.7 370.4 1803.1 370.5 1801.6 370.6 1800.0 370.7 1798.4 370.9 1796.8 371.0 1795.2 371.2 1793.6 371.3 1792.0 371.5 1790.4 371.6 1788.8 371.8 1787.2 371.9 1785.6 372.0" stroke="#000080"/>
<path d="M1782.8 368.7 1777.9 369.0 1771.5 369.5 1764.0 370.0 1755.5 370.6 1746.4 371.3 1736.9 372.0 1727.2 372.6 1717.7 373.3 1708.5 373.9 1700.0 374.5 1692.1 375.0 1684.6 375.5 1677.3 376.0 1670.1 376.5 1662.8 376.9 1655.2 377.4 1647.4 377.9 1639.0 378.4 1629.9 378.9 1620.0 379.5 1609.1 380.1 1597.1 380.8 1584.3 381.5 1571.0 382.2 1557.3 382.9 1543.6 383.6 1530.1 384.3 1517.0 385.0 1504.5 385.7 1493.0 386.3 1482.2 386.9 1471.7 387.5 1461.6 388.0 1451.8 388.6 1442.4 389.1 1433.3 389.6 1424.5 390.1 1416.0 390.6 1407.9 391.0 1400.0 391.4 1392.5 391.7 1385.5 392.0 1378.9 392.3 1372.6 392.5 1366.6 392.7 1360.8 392.9 1355.2 393.1 1349.7 393.3 1344.3 393.6 1339.0 393.8 1333.8 394.1 1328.7 394.3 1323.8 394.6 1319.1 394.8 1314.5 395.1 1310.0 395.4 1305.7 395.7 1301.4 396.0 1297.2 396.3 1293.0 396.6 1288.9 396.9 1284.7 397.3 1280.7 397.6 1276.7 398.0 1272.8 398.4 1269.1 398.8 1265.5 399.2 1262.1 399.5 1258.9 399.9 1256.0 400.3 1253.4 400.6 1251.0 401.0 1248.9 401.3 1246.9 401.5 1245.2 401.8 1243.5 402.2 1241.9 402.5 1240.4 403.0 1238.8 403.4 1237.2 404.0 1235.6 404.6 1234.1 405.3 1232.7 405.9 1231.3 406.6 1230.0 407.4 1228.7 408.2 1227.4 409.2 1226.0 410.2 1224.6 411.3 1223.2 412.5 1221.7 413.9 1220.0 415.3 1218.4 416.9 1216.6 418.6 1214.9 420.3 1213.3 422.1 1211.7 424.0 1210.1 425.9 1208.7 427.8 1207.5 429.7 1206.4 431.6 1205.5 433.5 1204.7 435.5 1203.9 437.5 1203.3 439.5 1202.6 441.6 1202.0 443.7 1201.4 445.9 1200.7 448.2 1200.0 450.6 1199.2 453.1 1198.4 455.6 1197.7 458.2 1196.9 460.9 1196.1 463.7 1195.3 466.5 1194.5 469.4 1193.6 472.4 1192.8 475.4 1192.0 478.5 1191.2 481.7 1190.3 485.1 1189.5 488.7 1188.6 492.3 1187.8 496.0 1186.9 499.6 1186.1 503.2 1185.2 506.8 1184.4 510.2 1183.5 513.4 1182.7 516.5 1181.8 519.5 1181.0 522.5 1180.2 525.4 1179.4 528.3 1178.5 531.0 1177.7 533.7 1176.8 536.3 1175.9 538.8 1175.0 541.2 1174.0 543.5 1173.0 545.8 1172.0 548.0 1171.0 550.1 1169.9 552.1 1168.9 554.1 1167.8 555.9 1166.7 557.6 1165.6 559.3 1164.5 560.8 1163.4 562.2 1162.2 563.6 1161.0 564.8 1159.8 565.9 1158.6 567.0 1157.4 567.9 1156.2 568.7 1155.0 569.4 1153.9 570.0 1152.0 570.9 1150.3 571.3 1148.8 571.3 1147.3 570.8 1145.5 569.8 1144.5 569.1 1143.4 568.3 1142.1 567.3 1140.9 566.2 1139.5 564.9 1138.2 563.5 1136.7 562.1 1135.3 560.5 1133.7 558.8 1132.2 557.0 1130.6 555.2 1129.0 553.2 1127.3 551.0 1125.5 548.6 1123.8 546.2 1121.9 543.6 1120.1 541.0 1118.2 538.5 1116.3 536.0 1114.3 533.7 1112.4 531.5 1110.5 529.5 1108.5 527.5 1106.5 525.6 1104.6 523.7 1102.6 521.9 1100.5 520.2 1098.4 518.5 1096.2 516.8 1093.9 515.1 1091.5 513.4 1089.0 511.7 1086.4 510.1 1083.6 508.4 1080.8 506.8 1077.9 505.2 1075.0 503.6 1072.1 502.1 1069.2 500.7 1066.4 499.3 1063.6 498.0 1060.8 496.8 1058.0 495.6 1055.2 494.5 1052.3 493.4 1049.5 492.4 1046.8 491.5 1044.1 490.6 1041.4 489.8 1039.0 489.0 1036.6 488.3 1034.4 487.7 1032.4 487.1 1030.5 486.7 1028.8 486.3 1027.1 486.0 1025.4 485.7 1023.7 485.4 1021.9 485.1 1020.0 484.9 1018.0 484.6 1015.9 484.3 1013.7 484.1 1011.4 483.8 1009.1 483.6 1006.7 483.4 1004.3 483.2 1001.9 483.0 999.5 482.9 997.1 482.8 994.8 482.8 992.5 482.8 990.1 482.8 987.7 482.9 985.3 483.0 982.9 483.1 980.5 483.3 978.1 483.5 975.9 483.8 973.6 484.2 971.5 484.6 969.4 485.1 967.5 485.7 965.6 486.4 963.7 487.1 961.9 487.9 960.1 488.7 958.3 489.5 956.5 490.3 954.7 491.2 952.9 492.0 951.1 492.8 949.4 493.6 947.7 494.3 946.0 495.1 944.3 495.9 942.5 496.8 940.7 497.7 938.7 498.7 936.6 499.8 934.3 501.0 931.8 502.4 929.1 503.9 926.2 505.5 923.3 507.1 920.2 508.9 917.1 510.7 913.9 512.5 910.8 514.2 907.7 516.0 904.7 517.7 901.6 519.4 898.4 521.1 895.2 522.7 891.9 524.4 888.6 526.1 885.5 527.8 882.4 529.5 879.6 531.1 877.1 532.7 874.8 534.2 872.9 535.7 871.2 537.2 869.8 538.6 868.5 540.0 867.5 541.4 866.5 542.7 865.6 544.1 864.7 545.4 863.9 546.7 863.0 548.0 862.2 549.2 861.5 550.2 860.3 551.8 859.3 553.7 858.7 554.8 858.1 556.2 857.3 557.9 856.3 560.0 855.1 562.5 853.7 565.5 852.2 568.7 850.6 572.2 849.0 575.8 847.3 579.6 845.7 583.4 844.2 587.2 842.8 590.9 841.6 594.5 840.6 597.9 839.7 601.1 839.0 604.3 838.4 607.5 837.8 610.7 837.2 614.0 836.6 617.5 836.1 621.1 835.4 624.9 834.7 629.1 833.9 633.6 833.1 638.4 832.2 643.4 831.3 648.6 830.4 653.9 829.5 659.4 828.6 664.8 827.7 670.3 826.9 675.6 826.1 680.9 825.3 686.0 824.6 691.0 823.9 695.9 823.3 700.8 822.6 705.7 821.9 710.7 821.3 715.9 820.6 721.2 819.9 726.8 819.2 732.7 818.4 739.0 817.6 745.9 816.8 753.1 816.0 760.6 815.1 768.1 814.3 775.6 813.5 782.8 812.7 789.7 812.0 796.1 811.4 801.8 810.9 806.9 810.4 811.4 809.9 815.5 809.6 819.2 809.2 822.7 808.9 826.1 808.5 829.4 808.2 832.8 807.9 836.3 807.5 840.0 807.1 843.9 806.7 847.8 806.3 851.8 805.9 855.8 805.6 859.8 805.2 863.7 804.8 867.7 804.4 871.7 804.0 875.7 803.6 879.7 803.2 883.7 802.8 887.7 802.4 891.6 802.0 895.6 801.6 899.6 801.2 903.6 800.8 907.6 800.4 911.5 800.0 915.5 799.6 919.5 799.2 923.5 798.8 927.7 798.4 931.8 798.0 936.0 797.6 940.2 797.2 944.3 796.8 948.3 796.4 952.1 796.0 955.8 795.6 959.2 795.2 962.4 794.8 965.3 794.4 968.1 794.0 970.8 793.6 973.3 793.3 975.7 792.9 978.2 792.5 980.6 792.1 983.1 791.7 985.7 791.3 988.4 790.9 991.1 790.5 993.9 790.1 996.6 789.7 999.4 789.3 1002.1 788.9 1004.7 788.5 1007.3 788.1 1009.8 787.7 1012.2 787.3 1014.5 786.9 1016.7 786.5 1018.8 786.2 1020.9 785.8 1022.8 785.4 1024.8 785.0 1026.7 784.6 1028.5 784.2 1030.3 783.7 1032.0 783.2 1033.7 782.7 1035.4 782.2 1037.1 781.6 1038.8 781.1 1040.4 780.5 1041.9 779.9 1043.3 779.4 1044.5 778.9 1045.6 778.0 1047.4 777.1 1048.5 776.0 1049.4 774.4 1049.3 772.9 1048.5 771.9 1047.6 770.8 1046.3 769.7 1044.8 768.5 1043.1 767.2 1041.0 766.6 1039.9 765.9 1038.7 765.2 1037.4 764.5 1036.1 763.8 1034.8 763.2 1033.4 762.5 1032.0 761.8 1030.6 761.1 1029.0 760.4 1027.4 759.7 1025.8 759.0 1024.1 758.4 1022.5 757.7 1020.8 757.1 1019.2 756.5 1017.7 755.9 1016.2 755.4 1014.8 755.0 1013.5 754.6 1012.2 754.3 1011.0 754.0 1009.8 753.6 1008.6 753.3 1007.4 752.8 1006.2 752.3 1005.0 751.7 1003.8 751.0 1002.6 750.3 1001.5 749.6 1000.4 748.8 999.3 748.0 998.2 747.1 997.0 746.1 995.9 745.0 994.6 743.8 993.3 742.5 991.8 741.0 990.2 739.3 988.4 737.5 986.5 735.5 984.6 733.5 982.6 731.5 980.6 729.5 978.7 727.5 976.8 725.7 975.0 724.0 973.4 722.4 971.9 720.9 970.5 719.5 969.1 718.1 967.8 716.8 966.6 715.5 965.4 714.2 964.3 712.9 963.3 711.6 962.3 710.2 961.4 708.8 960.5 707.4 959.7 706.1 959.0 704.7 958.2 703.3 957.6 701.9 957.1 700.5 956.6 699.2 956.3 697.8 956.1 696.4 956.0 695.0 956.0 693.6 956.2 692.3 956.4 690.9 956.8 689.5 957.2 688.1 957.8 686.7 958.5 685.4 959.3 684.0 960.3 682.6 961.4 681.2 962.7 679.9 964.2 678.6 965.9 677.3 967.8 675.9 969.7 674.6 971.7 673.2 973.8 671.8 975.8 670.3 977.9 668.7 979.8 667.0 981.8 665.3 983.9 663.5 986.1 661.7 988.3 659.8 990.5 657.9 992.6 656.0 994.6 654.1 996.4 652.2 997.9 650.3 999.2 648.5 1000.2 646.6 1000.9 644.8 1001.4 642.9 1001.7 641.1 1001.9 639.3 1001.9 637.4 1001.9 635.6 1001.9 633.7 1001.9 631.9 1001.9 630.0 1001.9 628.0 1001.8 625.9 1001.6 623.8 1001.4 621.8 1001.1 619.8 1000.8 617.9 1000.6 616.2 1000.4 614.7 1000.2 613.4 1000.1 611.5 1000.1 610.3 1000.3 609.0 1000.8 608.6 998.8 608.7 997.3 608.7 995.7 608.7 993.9 608.8 992.1 608.8 990.2 608.9 988.4 608.9 986.6 609.0 985.0 609.1 983.6 609.1 982.4 609.2 980.2 609.3 977.9 609.4 976.5 609.6 974.9 609.9 972.9 610.2 970.6 610.6 967.8 611.1 964.7 611.6 961.2 612.2 957.5 612.9 953.6 613.6 949.5 614.3 945.5 615.1 941.4 615.9 937.5 616.7 933.7 617.6 930.0 618.5 926.3 619.5 922.7 620.5 919.0 621.5 915.3 622.6 911.6 623.7 907.9 624.7 904.3 625.8 900.6 626.8 896.9 627.8 893.2 628.8 889.4 629.8 885.6 630.8 881.8 631.8 878.0 632.7 874.3 633.7 870.6 634.6 867.0 635.6 863.4 636.5 860.0 637.4 856.7 638.2 853.6 639.0 850.7 639.8 847.8 640.6 844.9 641.4 842.0 642.2 839.1 643.1 836.2 644.0 833.1 645.0 829.8 646.1 826.4 647.3 822.8 648.5 819.2 649.8 815.5 651.1 811.8 652.4 808.0 653.7 804.2 655.0 800.4 656.3 796.6 657.5 792.9 658.7 789.2 659.8 785.5 661.0 781.9 662.1 778.2 663.2 774.5 664.3 770.8 665.5 767.1 666.6 763.5 667.8 759.8 669.0 756.1 670.2 752.5 671.4 748.9 672.6 745.4 673.8 741.9 675.0 738.4 676.2 734.8 677.6 731.1 678.9 727.3 680.4 723.4 681.9 719.2 683.5 714.8 685.3 710.0 687.1 705.1 689.0 700.0 691.0 694.9 693.0 689.8 694.9 684.7 696.9 679.8 698.8 675.0 700.7 670.6 702.5 666.4 704.3 662.5 706.0 658.6 707.8 654.9 709.5 651.3 711.2 647.8 713.0 644.3 714.8 640.8 716.7 637.3 718.7 633.7 720.8 630.1 723.0 626.4 725.3 622.8 727.6 619.1 730.0 615.5 732.3 611.9 734.6 608.3 736.9 604.8 739.0 601.4 741.0 598.0 742.9 594.8 744.6 591.8 746.2 588.9 747.7 586.1 749.3 583.3 750.8 580.5 752.3 577.5 753.8 574.2 755.5 570.7 757.2 566.8 759.0 562.5 760.9 557.9 762.8 553.0 764.7 547.9 766.7 542.7 768.7 537.3 770.7 531.9 772.8 526.6 774.9 521.3 777.0 516.1 779.2 510.9 781.5 505.6 783.9 500.1 786.3 494.6 788.8 489.2 791.2 483.9 793.5 478.8 795.8 473.9 797.9 469.4 799.8 465.4 801.6 461.8 803.2 458.5 804.8 455.5 806.3 452.8 807.6 450.3 808.9 448.0 810.2 445.9 811.4 443.8 812.6 441.9 813.7 440.0 814.7 438.3 815.6 437.0 816.3 435.9 817.5 434.2 818.9 432.3 819.9 431.2 821.0 429.7 822.4 427.8 824.1 425.5 826.0 422.8 828.1 419.9 830.4 416.7 832.7 413.4 835.2 410.1 837.6 406.8 840.1 403.6 842.5 400.6 844.8 397.9 847.0 395.4 849.2 393.0 851.3 390.7 853.4 388.5 855.6 386.4 857.8 384.3 860.0 382.4 862.3 380.5 864.7 378.7 867.3 376.9 870.0 375.2 872.8 373.6 875.8 372.2 878.8 370.7 881.8 369.4 884.9 368.1 888.1 366.9 891.2 365.7 894.3 364.5 897.3 363.4 900.3 362.3 903.4 361.2 906.5 360.2 909.6 359.2 912.7 358.3 915.8 357.4 918.8 356.6 921.7 355.8 924.5 355.1 927.2 354.4 929.6 353.8 931.7 353.4 933.5 353.0 935.2 352.7 937.0 352.5 938.8 352.2 941.0 351.9 943.4 351.5 946.4 351.0 950.0 350.4 954.2 349.6 959.0 348.7 964.3 347.6 969.9 346.5 975.8 345.4 981.9 344.2 988.0 343.1 994.1 342.0 1000.1 340.9 1005.8 340.0 1011.4 339.2 1016.9 338.4 1022.5 337.8 1028.1 337.2 1033.7 336.5 1039.2 335.9 1044.8 335.3 1050.4 334.6 1055.9 333.9 1061.5 333.0 1067.2 332.0 1073.1 331.0 1079.1 329.8 1085.2 328.6 1091.1 327.4 1097.0 326.2 1102.6 325.0 1107.9 323.8 1112.8 322.8 1117.3 321.8 1121.3 320.9 1124.8 320.1 1127.9 319.4 1130.8 318.7 1133.4 318.0 1135.9 317.4 1138.2 316.7 1140.5 316.1 1142.8 315.5 1145.2 314.9 1147.6 314.3 1149.8 313.6 1152.0 312.9 1154.1 312.3 1156.1 311.6 1158.1 311.0 1160.1 310.5 1162.0 310.0 1164.0 309.6 1166.1 309.3 1168.2 309.1 1170.2 309.0 1172.1 309.0 1174.1 309.0 1176.1 309.1 1178.1 309.3 1180.2 309.4 1182.4 309.6 1184.6 309.8 1187.0 310.0 1189.5 310.2 1192.0 310.4 1194.6 310.7 1197.3 311.0 1200.1 311.3 1202.9 311.6 1205.8 311.9 1208.7 312.2 1211.8 312.5 1214.9 312.8 1218.1 313.1 1221.4 313.4 1224.7 313.7 1228.1 314.0 1231.6 314.3 1235.2 314.6 1238.8 314.8 1242.5 315.1 1246.2 315.3 1250.0 315.5 1253.8 315.7 1257.7 315.8 1261.5 315.9 1265.5 316.0 1269.5 316.1 1273.6 316.2 1277.8 316.2 1282.2 316.3 1286.7 316.2 1291.5 316.2 1296.5 316.1 1301.7 316.0 1307.2 315.9 1312.8 315.8 1318.5 315.6 1324.3 315.4 1330.1 315.2 1335.9 314.9 1341.7 314.6 1347.3 314.3 1352.9 313.9 1358.6 313.5 1364.3 313.1 1370.0 312.6 1375.7 312.1 1381.4 311.5 1387.0 311.0 1392.5 310.5 1397.8 310.1 1403.0 309.7 1408.1 309.4 1413.2 309.1 1418.3 308.8 1423.3 308.6 1428.2 308.4 1432.9 308.2 1437.5 308.0 1441.8 307.7 1445.8 307.3 1449.5 306.9 1452.8 306.5 1455.8 306.1 1458.5 305.7 1460.9 305.3 1463.1 304.9 1465.2 304.3 1467.3 303.6 1469.3 302.8 1471.5 301.7 1473.7 300.4 1476.0 298.8 1478.3 296.9 1480.6 294.8 1482.9 292.5 1485.2 290.1 1487.4 287.6 1489.6 285.2 1491.8 282.7 1493.9 280.3 1496.0 278.1 1498.0 275.9 1500.0 273.7 1501.9 271.4 1503.7 269.1 1505.5 266.9 1507.3 264.7 1509.1 262.7 1510.9 260.8 1512.8 259.1 1514.6 257.6 1516.5 256.3 1518.3 255.2 1520.2 254.2 1522.0 253.4 1523.9 252.7 1525.8 252.1 1527.6 251.7 1529.5 251.3 1531.3 251.2 1533.2 251.1 1535.1 251.2 1537.1 251.6 1539.1 252.2 1541.1 252.9 1543.1 253.7 1545.0 254.5 1546.9 255.4 1548.7 256.2 1550.3 257.0 1551.7 257.6 1552.8 258.1 1554.2 258.9 1555.5 260.0 1557.0 260.9 1558.3 261.5 1560.0 262.2 1562.1 263.0 1564.6 264.0 1567.3 265.1 1570.2 266.2 1573.4 267.3 1576.7 268.5 1580.2 269.7 1583.9 270.9 1587.7 272.1 1591.6 273.2 1595.7 274.3 1600.1 275.5 1604.7 276.7 1609.4 277.9 1614.3 279.1 1619.3 280.2 1624.3 281.2 1629.3 282.2 1634.2 282.9 1639.0 283.5 1643.7 283.9 1648.5 284.2 1653.2 284.3 1658.0 284.3 1662.7 284.2 1667.4 284.0 1672.2 283.8 1676.9 283.4 1681.7 283.1 1686.4 282.7 1691.1 282.3 1695.9 281.7 1700.6 281.1 1705.4 280.4 1710.1 279.7 1714.8 278.9 1719.6 278.1 1724.3 277.3 1729.1 276.4 1733.8 275.6 1738.6 274.7 1743.4 273.8 1748.3 272.9 1753.1 271.9 1758.0 270.9 1762.8 269.8 1767.6 268.8 1772.2 267.9 1776.8 267.0 1781.2 266.1 1785.5 265.3 1789.6 264.4 1793.6 263.5 1797.6 262.7 1801.5 261.9 1805.3 261.1 1809.1 260.5 1812.9 259.9 1816.8 259.4 1820.7 259.0 1824.7 258.8 1828.8 258.7 1832.9 258.7 1837.1 258.8 1841.2 259.0 1845.3 259.2 1849.2 259.4 1853.0 259.6 1856.6 259.8 1860.0 259.9 1863.1 260.0 1866.0 260.1 1868.8 260.2 1871.3 260.3 1873.8 260.4 1876.2 260.4 1878.5 260.4 1880.9 260.4 1883.4 260.2 1885.9 259.9 1888.5 259.5 1891.1 259.0 1893.7 258.5 1896.3 257.9 1898.9 257.2 1901.5 256.5 1904.1 255.7 1906.7 254.8 1909.3 253.9 1911.9 253.0 1914.5 252.0 1917.1 250.9 1919.8 249.7 1922.4 248.5 1925.1 247.2 1927.7 245.9 1930.3 244.6 1932.8 243.3 1935.3 242.1 1937.8 240.9 1940.2 239.8 1942.5 238.6 1944.9 237.5 1947.1 236.3 1949.4 235.2 1951.6 234.1 1953.8 233.1 1956.0 232.2 1958.1 231.3 1960.3 230.5 1962.4 229.8 1964.6 229.2 1966.6 228.7 1968.7 228.2 1970.8 227.8 1972.8 227.4 1974.8 227.1 1976.9 226.8 1978.9 226.5 1981.0 226.2 1983.1 225.9 1985.1 225.7 1987.2 225.4 1989.3 225.3 1991.3 225.1 1993.4 224.9 1995.5 224.8 1997.6 224.7 1999.6 224.6 2001.7 224.5 2003.9 224.4 2006.2 224.4 2008.6 224.4 2011.0 224.4 2013.4 224.4 2015.7 224.4 2017.8 224.4 2019.7 224.5 2021.3 224.5 2022.5 224.5 2022.5 226.7 2022.6 229.7 2022.7 233.2 2022.8 237.1 2022.9 241.3 2023.0 245.6 2023.0 249.8 2022.9 253.6 2022.8 257.1 2022.5 259.9 2022.1 262.1 2021.7 263.9 2021.3 265.4 2020.7 266.6 2020.1 267.7 2019.4 268.7 2018.7 269.7 2017.8 270.8 2016.7 272.1 2015.6 273.7 2014.3 275.5 2012.8 277.5 2011.2 279.6 2009.4 281.9 2007.6 284.1 2005.7 286.3 2003.8 288.6 2001.9 290.7 2000.1 292.7 1998.3 294.5 1996.6 296.2 1994.8 297.7 1993.1 299.2 1991.4 300.6 1989.7 301.9 1987.9 303.2 1986.2 304.5 1984.5 305.8 1982.7 307.0 1981.0 308.3 1979.3 309.6 1977.5 310.8 1975.8 311.9 1974.1 313.1 1972.3 314.2 1970.6 315.4 1968.9 316.6 1967.2 317.8 1965.4 319.1 1963.7 320.4 1962.0 321.8 1960.2 323.3 1958.5 324.8 1956.8 326.3 1955.1 327.9 1953.3 329.5 1951.6 331.1 1949.9 332.7 1948.1 334.4 1946.4 336.0 1944.7 337.7 1942.9 339.4 1941.2 341.1 1939.5 342.8 1937.7 344.6 1936.0 346.4 1934.3 348.1 1932.6 349.8 1930.8 351.5 1929.1 353.2 1927.4 354.9 1925.7 356.6 1923.9 358.3 1922.2 360.1 1920.5 361.7 1918.8 363.4 1917.1 364.9 1915.3 366.4 1913.6 367.7 1911.9 368.8 1910.2 369.8 1908.4 370.6 1906.7 371.3 1905.0 371.9 1903.3 372.4 1901.5 372.9 1899.8 373.2 1898.1 373.5 1896.3 373.8 1894.6 374.0 1892.9 374.2 1891.1 374.2 1889.4 374.2 1887.7 374.1 1885.9 374.0 1884.2 373.8 1882.5 373.6 1880.8 373.4 1879.0 373.2 1877.3 373.1 1875.5 373.0 1873.7 372.8 1871.8 372.7 1869.9 372.5 1868.0 372.3 1866.2 372.1 1864.5 371.9 1862.8 371.8 1861.3 371.6 1860.0 371.4 1858.4 371.0 1857.2 370.3 1855.7 369.9 1854.3 369.7 1852.3 369.6 1849.6 369.5 1846.3 369.3 1842.4 369.2 1838.3 369.1 1833.8 368.9 1829.3 368.8 1824.8 368.8 1820.5 368.7 1816.4 368.7 1812.8 368.8 1809.4 368.9 1806.0 369.1 1802.6 369.4 1799.3 369.6 1796.1 370.0 1793.2 370.3 1790.5 370.6 1788.1 370.8 1786.0 371.0 1784.4 371.2" stroke="#8000ff"/>
</g>
<g stroke="#000" stroke-width="6" stroke-linecap="butt">
<line x1="349.0" y1="48.1" x2="349.0" y2="1611.0"/>
<line x1="318.0" y1="1595.8" x2="2268.4" y2="1595.8"/>
<line x1="333.7" y1="1518.6" x2="349.0" y2="1518.6"/>
<line x1="318.0" y1="1441.3" x2="349.0" y2="1441.3"/>
<line x1="333.7" y1="1364.1" x2="349.0" y2="1364.1"/>
<line x1="318.0" y1="1286.8" x2="349.0" y2="1286.8"/>
<line x1="333.7" y1="1209.6" x2="349.0" y2="1209.6"/>
<line x1="318.0" y1="1132.4" x2="349.0" y2="1132.4"/>
<line x1="333.7" y1="1055.1" x2="349.0" y2="1055.1"/>
<line x1="318.0" y1="977.9" x2="349.0" y2="977.9"/>
<line x1="333.7" y1="900.7" x2="349.0" y2="900.7"/>
<line x1="318.0" y1="823.4" x2="349.0" y2="823.4"/>
<line x1="333.7" y1="746.2" x2="349.0" y2="746.2"/>
<line x1="318.0" y1="669.0" x2="349.0" y2="669.0"/>
<line x1="333.7" y1="591.7" x2="349.0" y2="591.7"/>
<line x1="318.0" y1="514.5" x2="349.0" y2="514.5"/>
<line x1="333.7" y1="437.2" x2="349.0" y2="437.2"/>
<line x1="318.0" y1="360.0" x2="349.0" y2="360.0"/>
<line x1="333.7" y1="282.8" x2="349.0" y2="282.8"/>
<line x1="318.0" y1="205.5" x2="349.0" y2="205.5"/>
<line x1="333.7" y1="128.3" x2="349.0" y2="128.3"/>
<line x1="318.0" y1="51.1" x2="349.0" y2="51.1"/>
<line x1="496.6" y1="1595.8" x2="496.6" y2="1626.7"/>
<line x1="644.0" y1="1595.8" x2="644.0" y2="1610.9"/>
<line x1="791.4" y1="1595.8" x2="791.4" y2="1626.7"/>
<line x1="938.8" y1="1595.8" x2="938.8" y2="1610.9"/>
<line x1="1086.2" y1="1595.8" x2="1086.2" y2="1626.7"/>
<line x1="1233.6" y1="1595.8" x2="1233.6" y2="1610.9"/>
<line x1="1381.0" y1="1595.8" x2="1381.0" y2="1626.7"/>
<line x1="1528.4" y1="1595.8" x2="1528.4" y2="1610.9"/>
<line x1="1675.8" y1="1595.8" x2="1675.8" y2="1626.7"/>
<line x1="1823.2" y1="1595.8" x2="1823.2" y2="1610.9"/>
<line x1="1970.6" y1="1595.8" x2="1970.6" y2="1626.7"/>
<line x1="2118.0" y1="1595.8" x2="2118.0" y2="1610.9"/>
<line x1="2265.4" y1="1595.8" x2="2265.4" y2="1626.7"/>
</g>
<g font-size="68">
<text x="298.5" y="1614.8" text-anchor="end">-400</text>
<text x="298.5" y="1460.3" text-anchor="end">-350</text>
<text x="298.5" y="1305.8" text-anchor="end">-300</text>
<text x="298.5" y="1151.4" text-anchor="end">-250</text>
<text x="298.5" y="996.9" text-anchor="end">-200</text>
<text x="298.5" y="842.4" text-anchor="end">-150</text>
<text x="298.5" y="688.0" text-anchor="end">-100</text>
<text x="298.5" y="533.5" text-anchor="end">-50</text>
<text x="298.5" y="379.0" text-anchor="end">0</text>
<text x="298.5" y="224.5" text-anchor="end">50</text>
<text x="298.5" y="70.1" text-anchor="end">100</text>
<text x="495.6" y="1697" text-anchor="middle">-2.5</text>
<text x="790.4" y="1697" text-anchor="middle">-2.0</text>
<text x="1085.2" y="1697" text-anchor="middle">-1.5</text>
<text x="1380.0" y="1697" text-anchor="middle">-1.0</text>
<text x="1674.8" y="1697" text-anchor="middle">-0.5</text>
<text x="1969.6" y="1697" text-anchor="middle">0.0</text>
<text x="2263.4" y="1697" text-anchor="middle">0.5</text>
</g>
<g font-size="81">
<text x="1052" y="1838.5">E (V vs Fc/Fc<tspan font-size="57" dy="-30">+</tspan><tspan dy="30">)</tspan></text>
<text x="778" y="295.2">IIa*</text>
<text x="1133" y="232.5">Ia</text>
<text x="1473.3" y="183.1">I'</text>
<text x="1863.1" y="180.3">IIIa</text>
<text x="1851" y="556.8">IIIc</text>
<text x="1122" y="665">Ic</text>
<text x="749" y="1513">IIc</text>
<text transform="translate(87.3 1172.9) rotate(-90)">i/v<tspan font-size="57" dy="-33">1/2</tspan><tspan dy="33" dx="-5"> (</tspan><tspan font-size="91">μ</tspan><tspan>A V</tspan><tspan font-size="57" dy="-33">-1/2</tspan><tspan dy="33">)</tspan></text>
</g>
<g>
<rect x="1752.4" y="1016.5" width="418.1" height="516.3" fill="none" stroke="#000" stroke-width="3"/>
<line x1="1760" y1="1057.0" x2="1893" y2="1057.0" stroke="#000000" stroke-width="6.2"/>
<text x="1906.5" y="1076.3" font-size="58.5" style="stroke-width:0.4px">50 mV/s</text>
<line x1="1760" y1="1129.5" x2="1893" y2="1129.5" stroke="#ff0000" stroke-width="6.2"/>
<text x="1906.5" y="1148.8" font-size="58.5" style="stroke-width:0.4px">100 mV/s</text>
<line x1="1760" y1="1202.0" x2="1893" y2="1202.0" stroke="#0000ff" stroke-width="6.2"/>
<text x="1906.5" y="1221.3" font-size="58.5" style="stroke-width:0.4px">250 mV/s</text>
<line x1="1760" y1="1274.4" x2="1893" y2="1274.4" stroke="#ff00ff" stroke-width="6.2"/>
<text x="1906.5" y="1293.7" font-size="58.5" style="stroke-width:0.4px">500 mV/s</text>
<line x1="1760" y1="1346.9" x2="1893" y2="1346.9" stroke="#008000" stroke-width="6.2"/>
<text x="1906.5" y="1366.2" font-size="58.5" style="stroke-width:0.4px">750 mV/s</text>
<line x1="1760" y1="1419.4" x2="1893" y2="1419.4" stroke="#000080" stroke-width="6.2"/>
<text x="1906.5" y="1438.7" font-size="58.5" style="stroke-width:0.4px">100 mV/s</text>
<line x1="1760" y1="1491.9" x2="1893" y2="1491.9" stroke="#8000ff" stroke-width="6.2"/>
<text x="1906.5" y="1511.2" font-size="58.5" style="stroke-width:0.4px">1500 mV/s</text>
</g>
</svg>
</body></html>
